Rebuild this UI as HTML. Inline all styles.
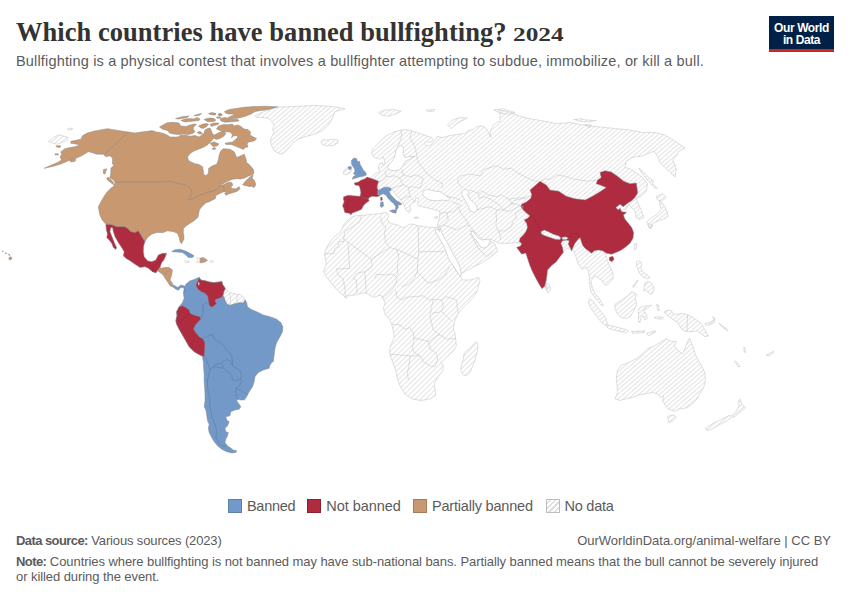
<!DOCTYPE html>
<html><head><meta charset="utf-8">
<style>
html,body{margin:0;padding:0;background:#fff;}
body{width:850px;height:600px;position:relative;overflow:hidden;font-family:"Liberation Sans",sans-serif;}
.title{position:absolute;left:16px;top:16.5px;font-family:"Liberation Serif",serif;font-weight:bold;font-size:26.5px;color:#333;white-space:nowrap;letter-spacing:0.04px;}
.sub{position:absolute;left:16px;top:53px;font-size:14.5px;color:#5b5b5b;white-space:nowrap;letter-spacing:0.17px;}
.logo{position:absolute;left:769px;top:16px;width:65px;height:36px;background:#002147;}
.logo:after{content:"";position:absolute;left:0;right:0;bottom:0;height:3px;background:#ce261e;}
.logo div{position:absolute;left:0;right:0;text-align:center;color:#fff;font-weight:bold;font-size:12px;line-height:12px;letter-spacing:-0.4px;}
.legend{position:absolute;top:497.5px;left:0;width:850px;height:16px;font-size:14.5px;color:#5b5b5b;}
.legend span.sw{position:absolute;top:1px;width:14px;height:14px;box-sizing:border-box;}
.legend span.t{position:absolute;top:0px;white-space:nowrap;line-height:16px;}
.foot{position:absolute;font-size:13px;color:#5b5b5b;white-space:nowrap;}
.foot b{color:#5b5b5b;letter-spacing:-0.58px;}
svg{position:absolute;left:0;top:0;}
</style></head><body>
<div class="title">Which countries have banned bullfighting? <span style="font-size:19.5px;display:inline-block;transform:scaleX(1.3);transform-origin:0 100%;letter-spacing:0">2024</span></div>
<div class="sub">Bullfighting is a physical contest that involves a bullfighter attempting to subdue, immobilize, or kill a bull.</div>
<div class="logo"><div style="top:5.5px">Our World</div><div style="top:18px">in Data</div></div>
<svg id="map" width="850" height="600" viewBox="0 0 850 600">
<defs><clipPath id="hc1"><path d="M196.67,257.5 L200,258.33 L200.33,263 L195.83,262 L198,260.33Z M185,260.83 L189.17,260.83 L189.17,262.5 L185,262.5Z M210,260.83 L213.33,260.83 L213.33,262.17 L210,262.17Z M223.72,291.72 L225.97,288.73 L229.72,292.47 L234.96,293.97 L240.96,294.72 L243.96,297.72 L245.16,299.97 L243.21,302.97 L239.46,302.67 L234.96,303.72 L230.46,305.22 L227.17,304.47 L225.22,300.72 L223.72,296.22 L222.67,296.22Z M374.17,157.5 L371.67,153.33 L372.5,149.17 L375.83,145.83 L380,141.67 L384.17,137.5 L389.17,134.17 L395,131.67 L400.83,130 L406.67,129.67 L411.67,130.83 L416.67,132.5 L421.67,134.17 L426.67,135.83 L431.67,137.5 L433.33,140 L430.83,142.5 L426.67,141.67 L424.17,143.33 L426.67,145.83 L430.83,145 L433.33,142.5 L435.83,139.17 L437.5,135.83 L440,137.5 L443.33,137.5 L448.33,135.83 L453.33,135 L460,134.17 L465,133.33 L468.33,130.83 L473.33,129.17 L476.67,126.67 L480,125.83 L484.17,126.67 L486.67,129.17 L489.17,133.33 L490.83,137.5 L490,132.5 L491.67,128.33 L493.33,125 L496.67,122.5 L500,121.33 L500,110 L510,112.5 L520,116.25 L530,118.75 L537.5,120 L545,121.25 L557.5,123.75 L570,122.5 L582.5,125 L592.5,126.25 L605,127.5 L617.5,128.75 L630,130 L642.5,132.5 L655,132.5 L665,135 L675,141.25 L685,148 L678.75,151.25 L676.25,156.25 L672.5,160 L675,165 L676.25,170 L675,177 L670,172.5 L665,167.5 L660,162.5 L657.5,156.25 L653.75,151.25 L647.5,153.75 L641.25,156.25 L632.5,157.5 L626.25,161.25 L625,167.5 L630,168.75 L636.25,172.5 L642.5,177.5 L647.5,183.75 L646.25,191.25 L642.5,195 L638.75,197.5 L636.25,198.75 L638.75,205 L641.25,210 L643.75,217.5 L640,219.5 L636.25,217.5 L635,211.25 L631.25,207.5 L628.75,203.75 L605,252.5 L606.67,258.33 L609.17,265 L612.5,271.67 L613.33,277.5 L610,282.5 L605.83,285.83 L603.33,283.33 L601.67,280 L598.33,278.33 L595.83,275.83 L593.33,277.5 L591.67,280 L591,281.25 L592.5,288.33 L595,293.33 L598.33,297.5 L601.67,302.5 L603.33,305.83 L600.83,305 L597.5,300.83 L594.17,296.67 L590.83,291.67 L589.25,281.25 L589.5,277.5 L588.25,271.25 L586.25,267 L582,269.5 L578,263.75 L576.25,257.5 L573.75,251.25 L567.5,248.33 L555,256.67 L528.33,254.17 L521.67,247.5 L521.33,243.67 L515,242.5 L508.33,243.33 L500,243.33 L495,241.33 L490.83,239.17 L487.5,240.83 L483.33,240 L479.17,236.67 L475,232.5 L470.83,230.83 L471.67,232.5 L475,238.33 L478.33,243.33 L481.67,245.83 L485,246.67 L488.33,244.17 L490,240.83 L494.17,243.33 L497.5,250 L497.5,251.25 L490,257.5 L480,263.75 L470,268.75 L460,274.25 L456.67,266.67 L452.5,260.83 L448.33,253.33 L445,245 L440.83,236.67 L439.17,232.5 L438,227.5 L437.5,225 L439.17,218.33 L440,211.67 L433.33,209.17 L425,207.5 L418.33,205.83 L417.5,202.5 L418.33,199.17 L415.83,197.5 L415,202 L412,203.33 L409.67,205.83 L410.83,210 L409.17,212.83 L406.67,210.83 L405,207.5 L403.33,203.33 L400.83,200 L397.5,196.67 L394.17,192.5 L391.33,188.33 L380,190 L371.67,180 L370,178.33 L372.5,175.83 L375.83,173.33 L380,171.67 L378.33,168.33 L379.17,164.17 L382.5,162.5 L383.33,165.83 L385,163.33 L383.33,156.67 L379.17,159.17Z M320.83,141.67 L323.33,139.67 L328.33,140 L333.33,139.17 L338.33,140 L337.5,143.33 L333.33,145.33 L326.67,145.83 L322.5,144.67Z M344.17,170 L348,167.33 L349.17,169.67 L351.67,169.17 L350.33,172.5 L346.67,174.67 L343.33,174.17Z M378.75,112.5 L385,110 L393.75,109.5 L401.25,111.25 L395,114.5 L387.5,116.25 L381.25,115Z M447.5,125 L452.5,120 L460,117.5 L467.5,118 L461.25,121.25 L455,125 L451.25,128.75Z M426.25,110 L435,109.5 L433.75,111.25 L427.5,111.5Z M493.75,110 L502.5,108.75 L515,112.5 L510,114.5 L500,113Z M573.75,119.5 L580,118.75 L586.25,120 L596.25,120.5 L587.5,122 L580,121.25Z M585,124.5 L591.25,125 L590,128Z M639.07,168.27 L641.33,170 L646,174.67 L650,178.67 L654,181.33 L652,182 L653.33,184.67 L657.33,188.27 L656.67,189.07 L652.67,186 L649.33,182 L645.33,177.33 L642,173.33 L639.6,169.6Z M656.25,196.25 L662.5,193.75 L666.25,197.5 L661.25,201.25 L657.5,200Z M659.33,200.67 L663.33,204 L665.33,208 L667.33,212 L668,216 L666,218 L662.67,219.33 L659.33,220.67 L655.33,222 L652.67,223.33 L651.33,226.67 L649.33,227.33 L647.33,224 L646.67,222 L650,218.67 L653.33,216.67 L656.67,214.67 L658.67,212 L661.33,209.33 L660,205.33Z M648.75,223.75 L652.5,225 L651.25,228.75 L648.75,227.5Z M434.17,217.5 L437.5,216.33 L437,218.33Z M414.17,217.17 L418.33,217 L418.33,218 L414.17,218.17Z M634.17,244.17 L636.67,243.33 L636.33,248.33 L634.67,249.67Z M545,285.83 L547.5,286.67 L546.67,290 L545.33,288.67Z M48.33,141.67 L53.33,137.5 L59.17,134.67 L62.5,135.83 L68.33,137.5 L66.67,140.83 L61.67,142.5 L57.5,144.17 L53.33,143.33Z M67.5,128.67 L72.5,128 L72,129.67 L68,130Z M255,115.83 L261.67,112.5 L270,109.17 L277.5,107 L290,106.67 L300,106.33 L313.33,105.33 L323.33,105.83 L333.33,106.67 L345,108.67 L340,110.33 L335,111.67 L333.33,115.83 L331.67,120 L328.33,125 L325,128.33 L321.67,130.83 L316.67,133.33 L311.67,135 L305,136.67 L298.33,139.17 L293.33,142.5 L290,146.67 L285.83,150.83 L282.5,154.17 L278.33,153.33 L274.17,150.83 L271.67,145.83 L270.33,140.83 L271.67,136.67 L274.17,132.5 L272.5,129.17 L274.17,125 L271.67,121.67 L268.33,118.33 L261.67,117.5 L256.67,117.5Z M590,298.33 L594.17,302.5 L598.33,308.33 L602.5,313.33 L605.83,318.33 L607.5,324.17 L605.83,325.83 L601.67,322.5 L597.5,317.5 L593.33,311.67 L590,306.67 L588.33,301.67Z M606.67,325 L611.67,325.83 L618.33,327.5 L625,329.17 L628.33,330.83 L626.67,332.5 L620,331.33 L613.33,330 L607.5,328Z M631.67,331.33 L645,330.83 L644.17,332.5 L632.5,333.33Z M646.67,333.33 L655,330.83 L655.83,332 L648.33,335.83Z M615,304.17 L620.83,300.83 L626.67,296.67 L631.67,291.67 L636.67,294.17 L635,298.33 L636.67,304.17 L634.17,310 L630.83,315.83 L626.67,318.33 L621.67,317.5 L617.5,314.17 L615,309.17Z M639.17,308.33 L643.33,306.33 L648.33,305.83 L651.67,305.33 L647.5,308.33 L643.33,310 L645.83,313.33 L647.5,318.33 L645,320 L643,315.83 L640.83,318.33 L640,322.5 L638.33,321.67 L638.67,315.83 L638,311.67Z M636.67,261.67 L640,260.83 L641.67,264.17 L640.83,268.33 L643.33,272.5 L647.5,275 L650,277.5 L647.5,278.67 L644.17,277.5 L641.67,275.83 L639.17,272.5 L637.5,268.33 L636.33,265Z M645,282.5 L649.17,281.67 L652.5,284.17 L654.17,289.17 L652.5,293.33 L650,294.17 L647.5,291.67 L645,290 L643.33,290.83 L644.17,287.5Z M632.5,286.67 L637.5,280 L638,280.83 L633.33,287.5Z M664.17,311.67 L668.33,310 L671.67,310.83 L673.33,314.17 L678.33,314.17 L683.33,313.33 L690,315.83 L696.67,320 L701.67,324.17 L705,330 L708.33,335.83 L705,336.67 L700.83,333.33 L696.67,330.83 L691.67,331.67 L686.67,331.67 L682.5,330 L680,326.67 L677.5,322.5 L673.33,320 L669.17,316.67 L665.83,314.17Z M705,323.33 L710,322.5 L714.17,319.17 L712.5,316.67 L715,318.33 L714.17,322.5 L709.17,325 L705.83,325.33Z M719.17,323.33 L723.33,326.67 L728.33,330 L727.5,330.83 L722.5,327.5Z M656.67,304.17 L658.67,305 L659.17,310.83 L657.5,310Z M654.17,317.5 L658.33,316.67 L663.33,317.5 L662.5,319.17 L656.67,318.67Z M615,398.75 L617.5,392.5 L617,385 L616.25,377.5 L617.5,370 L621.25,365 L628.75,362.5 L636.25,358.75 L642.5,353.75 L647.5,348.75 L653.75,346.25 L660,342.5 L666.25,338.75 L671.25,341.25 L676.25,341.25 L674.5,346.25 L678.75,351.25 L682.5,353.75 L685,348.75 L687,342.5 L689.5,338 L691.25,342.5 L693.75,348.75 L695.5,355 L698.75,361.25 L702.5,367.5 L705,373.75 L705.5,380 L703.75,387.5 L700,393.75 L696.25,400 L691.25,405 L686.25,408 L680,408.75 L675,411.25 L668.75,409.5 L665,405 L662.5,400 L663.75,396.25 L660,397.5 L657.5,393.75 L652.5,392.5 L645,393.75 L638.75,395 L632.5,397.5 L626.25,398.75 L620,400.5Z M667.5,416.25 L673.75,415 L676.25,417 L672.5,421.25 L668.75,422.5Z M738.75,400 L740.5,399.5 L742,405 L745.5,407.5 L742.5,410 L738.75,413 L735.5,416.25 L733,417.5 L732,415 L736.25,411.25 L738.75,406.25Z M705,428.75 L710,425 L717.5,421.25 L725,417.5 L730,415 L731.25,417.5 L726.25,421.25 L718.75,425 L712.5,428.75 L707.5,430.5Z M734.5,361.25 L736.25,361.25 L740,366.25 L738,367Z M743.75,347.5 L745,348 L745.5,352.5 L744.25,352Z M766.25,355 L768.75,353.75 L773.75,351.25 L773,353 L768.75,356.25Z M546.25,283 L549.5,285 L550.5,290 L548,293 L546,288.75Z"/></clipPath><clipPath id="hc2"><path d="M386.33,212.5 L381.33,213.33 L374.67,214.17 L368,214.67 L361.33,215.33 L355.5,215.83 L352.17,216.67 L348,220 L344.67,223.33 L342.17,228.33 L339.67,232.5 L335.5,235.83 L331.33,240 L328,245 L325.5,250 L324.67,255 L325.5,260 L326.33,264.17 L324.67,267.5 L323.83,271.67 L325.5,275.83 L328.83,280 L332.17,284.17 L335.5,288.33 L339.67,292.5 L344.67,296.67 L347.17,298.33 L345,296.25 L355,295 L365,292.5 L373.75,297.5 L380,295 L382.5,296.67 L385,303.33 L383.33,308.33 L385,314.17 L389.17,319.17 L391.67,324.17 L393.33,330.83 L394.17,337.5 L391.67,343.33 L389.67,349.17 L390,355 L392.5,361.67 L395,368.33 L396.67,375 L398.33,381.67 L400.83,387.5 L402.5,390 L405,394 L412,399 L421,400.5 L430,399 L436,395 L434.17,384.17 L436.67,379.17 L439.17,375 L442.5,371.67 L443.33,366.67 L441.67,362.5 L445,358.33 L450,354.17 L454.17,350 L456.33,345.83 L455.83,340 L455,334.17 L453.33,329.17 L454.17,323.33 L455.83,318.33 L458.33,313.33 L461.67,309.17 L465.83,305 L470.83,300 L475,295 L477.5,290 L480,280 L478.75,277.5 L470,280 L462.5,280 L460,276.25 L455,268.75 L451.25,261.25 L447.5,252.5 L443.75,243.75 L440,235 L438.75,227.5 L440.5,225.83 L437.17,227.5 L431.33,227.5 L424.67,226.67 L418,225.83 L413.83,224.17 L408.83,224.17 L406.33,226.67 L402.17,227.5 L398,225 L393.83,224.17 L389.67,222.5 L387.17,219.17 L388.83,215.83Z M475.83,341.33 L477.5,343.33 L478,348.33 L476.67,354.17 L475,360 L472.5,366.67 L470,372.5 L466.67,375.83 L463.33,375 L460.83,370.83 L461.33,365 L463.33,359.17 L464.17,353.33 L467.5,350 L471.67,346.67 L474.17,343.33Z"/></clipPath></defs><g clip-path="url(#hc1)"><path d="M-5,-1172.8 L855,-1916.7 M-5,-1168.3 L855,-1912.2 M-5,-1163.8 L855,-1907.7 M-5,-1159.3 L855,-1903.2 M-5,-1154.8 L855,-1898.7 M-5,-1150.3 L855,-1894.2 M-5,-1145.8 L855,-1889.7 M-5,-1141.3 L855,-1885.2 M-5,-1136.8 L855,-1880.7 M-5,-1132.3 L855,-1876.2 M-5,-1127.8 L855,-1871.7 M-5,-1123.3 L855,-1867.2 M-5,-1118.8 L855,-1862.7 M-5,-1114.3 L855,-1858.2 M-5,-1109.8 L855,-1853.7 M-5,-1105.3 L855,-1849.2 M-5,-1100.8 L855,-1844.7 M-5,-1096.3 L855,-1840.2 M-5,-1091.8 L855,-1835.7 M-5,-1087.3 L855,-1831.2 M-5,-1082.8 L855,-1826.7 M-5,-1078.3 L855,-1822.2 M-5,-1073.8 L855,-1817.7 M-5,-1069.3 L855,-1813.2 M-5,-1064.8 L855,-1808.7 M-5,-1060.3 L855,-1804.2 M-5,-1055.8 L855,-1799.7 M-5,-1051.3 L855,-1795.2 M-5,-1046.8 L855,-1790.7 M-5,-1042.3 L855,-1786.2 M-5,-1037.8 L855,-1781.7 M-5,-1033.3 L855,-1777.2 M-5,-1028.8 L855,-1772.7 M-5,-1024.3 L855,-1768.2 M-5,-1019.8 L855,-1763.7 M-5,-1015.3 L855,-1759.2 M-5,-1010.8 L855,-1754.7 M-5,-1006.3 L855,-1750.2 M-5,-1001.8 L855,-1745.7 M-5,-997.3 L855,-1741.2 M-5,-992.8 L855,-1736.7 M-5,-988.3 L855,-1732.2 M-5,-983.8 L855,-1727.7 M-5,-979.3 L855,-1723.2 M-5,-974.8 L855,-1718.7 M-5,-970.3 L855,-1714.2 M-5,-965.8 L855,-1709.7 M-5,-961.3 L855,-1705.2 M-5,-956.8 L855,-1700.7 M-5,-952.3 L855,-1696.2 M-5,-947.8 L855,-1691.7 M-5,-943.3 L855,-1687.2 M-5,-938.8 L855,-1682.7 M-5,-934.3 L855,-1678.2 M-5,-929.8 L855,-1673.7 M-5,-925.3 L855,-1669.2 M-5,-920.8 L855,-1664.7 M-5,-916.3 L855,-1660.2 M-5,-911.8 L855,-1655.7 M-5,-907.3 L855,-1651.2 M-5,-902.8 L855,-1646.7 M-5,-898.3 L855,-1642.2 M-5,-893.8 L855,-1637.7 M-5,-889.3 L855,-1633.2 M-5,-884.8 L855,-1628.7 M-5,-880.3 L855,-1624.2 M-5,-875.8 L855,-1619.7 M-5,-871.3 L855,-1615.2 M-5,-866.8 L855,-1610.7 M-5,-862.3 L855,-1606.2 M-5,-857.8 L855,-1601.7 M-5,-853.3 L855,-1597.2 M-5,-848.8 L855,-1592.7 M-5,-844.3 L855,-1588.2 M-5,-839.8 L855,-1583.7 M-5,-835.3 L855,-1579.2 M-5,-830.8 L855,-1574.7 M-5,-826.3 L855,-1570.2 M-5,-821.8 L855,-1565.7 M-5,-817.3 L855,-1561.2 M-5,-812.8 L855,-1556.7 M-5,-808.3 L855,-1552.2 M-5,-803.8 L855,-1547.7 M-5,-799.3 L855,-1543.2 M-5,-794.8 L855,-1538.7 M-5,-790.3 L855,-1534.2 M-5,-785.8 L855,-1529.7 M-5,-781.3 L855,-1525.2 M-5,-776.8 L855,-1520.7 M-5,-772.3 L855,-1516.2 M-5,-767.8 L855,-1511.7 M-5,-763.3 L855,-1507.2 M-5,-758.8 L855,-1502.7 M-5,-754.3 L855,-1498.2 M-5,-749.8 L855,-1493.7 M-5,-745.3 L855,-1489.2 M-5,-740.8 L855,-1484.7 M-5,-736.3 L855,-1480.2 M-5,-731.8 L855,-1475.7 M-5,-727.3 L855,-1471.2 M-5,-722.8 L855,-1466.7 M-5,-718.3 L855,-1462.2 M-5,-713.8 L855,-1457.7 M-5,-709.3 L855,-1453.2 M-5,-704.8 L855,-1448.7 M-5,-700.3 L855,-1444.2 M-5,-695.8 L855,-1439.7 M-5,-691.3 L855,-1435.2 M-5,-686.8 L855,-1430.7 M-5,-682.3 L855,-1426.2 M-5,-677.8 L855,-1421.7 M-5,-673.3 L855,-1417.2 M-5,-668.8 L855,-1412.7 M-5,-664.3 L855,-1408.2 M-5,-659.8 L855,-1403.7 M-5,-655.3 L855,-1399.2 M-5,-650.8 L855,-1394.7 M-5,-646.3 L855,-1390.2 M-5,-641.8 L855,-1385.7 M-5,-637.3 L855,-1381.2 M-5,-632.8 L855,-1376.7 M-5,-628.3 L855,-1372.2 M-5,-623.8 L855,-1367.7 M-5,-619.3 L855,-1363.2 M-5,-614.8 L855,-1358.7 M-5,-610.3 L855,-1354.2 M-5,-605.8 L855,-1349.7 M-5,-601.3 L855,-1345.2 M-5,-596.8 L855,-1340.7 M-5,-592.3 L855,-1336.2 M-5,-587.8 L855,-1331.7 M-5,-583.3 L855,-1327.2 M-5,-578.8 L855,-1322.7 M-5,-574.3 L855,-1318.2 M-5,-569.8 L855,-1313.7 M-5,-565.3 L855,-1309.2 M-5,-560.8 L855,-1304.7 M-5,-556.3 L855,-1300.2 M-5,-551.8 L855,-1295.7 M-5,-547.3 L855,-1291.2 M-5,-542.8 L855,-1286.7 M-5,-538.3 L855,-1282.2 M-5,-533.8 L855,-1277.7 M-5,-529.3 L855,-1273.2 M-5,-524.8 L855,-1268.7 M-5,-520.3 L855,-1264.2 M-5,-515.8 L855,-1259.7 M-5,-511.3 L855,-1255.2 M-5,-506.8 L855,-1250.7 M-5,-502.3 L855,-1246.2 M-5,-497.8 L855,-1241.7 M-5,-493.3 L855,-1237.2 M-5,-488.8 L855,-1232.7 M-5,-484.3 L855,-1228.2 M-5,-479.8 L855,-1223.7 M-5,-475.3 L855,-1219.2 M-5,-470.8 L855,-1214.7 M-5,-466.3 L855,-1210.2 M-5,-461.8 L855,-1205.7 M-5,-457.3 L855,-1201.2 M-5,-452.8 L855,-1196.7 M-5,-448.3 L855,-1192.2 M-5,-443.8 L855,-1187.7 M-5,-439.3 L855,-1183.2 M-5,-434.8 L855,-1178.7 M-5,-430.3 L855,-1174.2 M-5,-425.8 L855,-1169.7 M-5,-421.3 L855,-1165.2 M-5,-416.8 L855,-1160.7 M-5,-412.3 L855,-1156.2 M-5,-407.8 L855,-1151.7 M-5,-403.3 L855,-1147.2 M-5,-398.8 L855,-1142.7 M-5,-394.3 L855,-1138.2 M-5,-389.8 L855,-1133.7 M-5,-385.3 L855,-1129.2 M-5,-380.8 L855,-1124.7 M-5,-376.3 L855,-1120.2 M-5,-371.8 L855,-1115.7 M-5,-367.3 L855,-1111.2 M-5,-362.8 L855,-1106.7 M-5,-358.3 L855,-1102.2 M-5,-353.8 L855,-1097.7 M-5,-349.3 L855,-1093.2 M-5,-344.8 L855,-1088.7 M-5,-340.3 L855,-1084.2 M-5,-335.8 L855,-1079.7 M-5,-331.3 L855,-1075.2 M-5,-326.8 L855,-1070.7 M-5,-322.3 L855,-1066.2 M-5,-317.8 L855,-1061.7 M-5,-313.3 L855,-1057.2 M-5,-308.8 L855,-1052.7 M-5,-304.3 L855,-1048.2 M-5,-299.8 L855,-1043.7 M-5,-295.3 L855,-1039.2 M-5,-290.8 L855,-1034.7 M-5,-286.3 L855,-1030.2 M-5,-281.8 L855,-1025.7 M-5,-277.3 L855,-1021.2 M-5,-272.8 L855,-1016.7 M-5,-268.3 L855,-1012.2 M-5,-263.8 L855,-1007.7 M-5,-259.3 L855,-1003.2 M-5,-254.8 L855,-998.7 M-5,-250.3 L855,-994.2 M-5,-245.8 L855,-989.7 M-5,-241.3 L855,-985.2 M-5,-236.8 L855,-980.7 M-5,-232.3 L855,-976.2 M-5,-227.8 L855,-971.7 M-5,-223.3 L855,-967.2 M-5,-218.8 L855,-962.7 M-5,-214.3 L855,-958.2 M-5,-209.8 L855,-953.7 M-5,-205.3 L855,-949.2 M-5,-200.8 L855,-944.7 M-5,-196.3 L855,-940.2 M-5,-191.8 L855,-935.7 M-5,-187.3 L855,-931.2 M-5,-182.8 L855,-926.7 M-5,-178.3 L855,-922.2 M-5,-173.8 L855,-917.7 M-5,-169.3 L855,-913.2 M-5,-164.8 L855,-908.7 M-5,-160.3 L855,-904.2 M-5,-155.8 L855,-899.7 M-5,-151.3 L855,-895.2 M-5,-146.8 L855,-890.7 M-5,-142.3 L855,-886.2 M-5,-137.8 L855,-881.7 M-5,-133.3 L855,-877.2 M-5,-128.8 L855,-872.7 M-5,-124.3 L855,-868.2 M-5,-119.8 L855,-863.7 M-5,-115.3 L855,-859.2 M-5,-110.8 L855,-854.7 M-5,-106.3 L855,-850.2 M-5,-101.8 L855,-845.7 M-5,-97.3 L855,-841.2 M-5,-92.8 L855,-836.7 M-5,-88.3 L855,-832.2 M-5,-83.8 L855,-827.7 M-5,-79.3 L855,-823.2 M-5,-74.8 L855,-818.7 M-5,-70.3 L855,-814.2 M-5,-65.8 L855,-809.7 M-5,-61.3 L855,-805.2 M-5,-56.8 L855,-800.7 M-5,-52.3 L855,-796.2 M-5,-47.8 L855,-791.7 M-5,-43.3 L855,-787.2 M-5,-38.8 L855,-782.7 M-5,-34.3 L855,-778.2 M-5,-29.8 L855,-773.7 M-5,-25.3 L855,-769.2 M-5,-20.8 L855,-764.7 M-5,-16.3 L855,-760.2 M-5,-11.8 L855,-755.7 M-5,-7.3 L855,-751.2 M-5,-2.8 L855,-746.7 M-5,1.7 L855,-742.2 M-5,6.2 L855,-737.7 M-5,10.7 L855,-733.2 M-5,15.2 L855,-728.7 M-5,19.7 L855,-724.2 M-5,24.2 L855,-719.7 M-5,28.7 L855,-715.2 M-5,33.2 L855,-710.7 M-5,37.7 L855,-706.2 M-5,42.2 L855,-701.7 M-5,46.7 L855,-697.2 M-5,51.2 L855,-692.7 M-5,55.7 L855,-688.2 M-5,60.2 L855,-683.7 M-5,64.7 L855,-679.2 M-5,69.2 L855,-674.7 M-5,73.7 L855,-670.2 M-5,78.2 L855,-665.7 M-5,82.7 L855,-661.2 M-5,87.2 L855,-656.7 M-5,91.7 L855,-652.2 M-5,96.2 L855,-647.7 M-5,100.7 L855,-643.2 M-5,105.2 L855,-638.7 M-5,109.7 L855,-634.2 M-5,114.2 L855,-629.7 M-5,118.7 L855,-625.2 M-5,123.2 L855,-620.7 M-5,127.7 L855,-616.2 M-5,132.2 L855,-611.7 M-5,136.7 L855,-607.2 M-5,141.2 L855,-602.7 M-5,145.7 L855,-598.2 M-5,150.2 L855,-593.7 M-5,154.7 L855,-589.2 M-5,159.2 L855,-584.7 M-5,163.7 L855,-580.2 M-5,168.2 L855,-575.7 M-5,172.7 L855,-571.2 M-5,177.2 L855,-566.7 M-5,181.7 L855,-562.2 M-5,186.2 L855,-557.7 M-5,190.7 L855,-553.2 M-5,195.2 L855,-548.7 M-5,199.7 L855,-544.2 M-5,204.2 L855,-539.7 M-5,208.7 L855,-535.2 M-5,213.2 L855,-530.7 M-5,217.7 L855,-526.2 M-5,222.2 L855,-521.7 M-5,226.7 L855,-517.2 M-5,231.2 L855,-512.7 M-5,235.7 L855,-508.2 M-5,240.2 L855,-503.7 M-5,244.7 L855,-499.2 M-5,249.2 L855,-494.7 M-5,253.7 L855,-490.2 M-5,258.2 L855,-485.7 M-5,262.7 L855,-481.2 M-5,267.2 L855,-476.7 M-5,271.7 L855,-472.2 M-5,276.2 L855,-467.7 M-5,280.7 L855,-463.2 M-5,285.2 L855,-458.7 M-5,289.7 L855,-454.2 M-5,294.2 L855,-449.7 M-5,298.7 L855,-445.2 M-5,303.2 L855,-440.7 M-5,307.7 L855,-436.2 M-5,312.2 L855,-431.7 M-5,316.7 L855,-427.2 M-5,321.2 L855,-422.7 M-5,325.7 L855,-418.2 M-5,330.2 L855,-413.7 M-5,334.7 L855,-409.2 M-5,339.2 L855,-404.7 M-5,343.7 L855,-400.2 M-5,348.2 L855,-395.7 M-5,352.7 L855,-391.2 M-5,357.2 L855,-386.7 M-5,361.7 L855,-382.2 M-5,366.2 L855,-377.7 M-5,370.7 L855,-373.2 M-5,375.2 L855,-368.7 M-5,379.7 L855,-364.2 M-5,384.2 L855,-359.7 M-5,388.7 L855,-355.2 M-5,393.2 L855,-350.7 M-5,397.7 L855,-346.2 M-5,402.2 L855,-341.7 M-5,406.7 L855,-337.2 M-5,411.2 L855,-332.7 M-5,415.7 L855,-328.2 M-5,420.2 L855,-323.7 M-5,424.7 L855,-319.2 M-5,429.2 L855,-314.7 M-5,433.7 L855,-310.2 M-5,438.2 L855,-305.7 M-5,442.7 L855,-301.2 M-5,447.2 L855,-296.7 M-5,451.7 L855,-292.2 M-5,456.2 L855,-287.7 M-5,460.7 L855,-283.2 M-5,465.2 L855,-278.7 M-5,469.7 L855,-274.2 M-5,474.2 L855,-269.7 M-5,478.7 L855,-265.2 M-5,483.2 L855,-260.7 M-5,487.7 L855,-256.2 M-5,492.2 L855,-251.7 M-5,496.7 L855,-247.2 M-5,501.2 L855,-242.7 M-5,505.7 L855,-238.2 M-5,510.2 L855,-233.7 M-5,514.7 L855,-229.2 M-5,519.2 L855,-224.7 M-5,523.7 L855,-220.2 M-5,528.2 L855,-215.7 M-5,532.7 L855,-211.2 M-5,537.2 L855,-206.7 M-5,541.7 L855,-202.2 M-5,546.2 L855,-197.7 M-5,550.7 L855,-193.2 M-5,555.2 L855,-188.7 M-5,559.7 L855,-184.2 M-5,564.2 L855,-179.7 M-5,568.7 L855,-175.2 M-5,573.2 L855,-170.7 M-5,577.7 L855,-166.2 M-5,582.2 L855,-161.7 M-5,586.7 L855,-157.2 M-5,591.2 L855,-152.7 M-5,595.7 L855,-148.2 M-5,600.2 L855,-143.7 M-5,604.7 L855,-139.2 M-5,609.2 L855,-134.7 M-5,613.7 L855,-130.2 M-5,618.2 L855,-125.7 M-5,622.7 L855,-121.2 M-5,627.2 L855,-116.7 M-5,631.7 L855,-112.2 M-5,636.2 L855,-107.7 M-5,640.7 L855,-103.2 M-5,645.2 L855,-98.7 M-5,649.7 L855,-94.2 M-5,654.2 L855,-89.7 M-5,658.7 L855,-85.2 M-5,663.2 L855,-80.7 M-5,667.7 L855,-76.2 M-5,672.2 L855,-71.7 M-5,676.7 L855,-67.2 M-5,681.2 L855,-62.7 M-5,685.7 L855,-58.2 M-5,690.2 L855,-53.7 M-5,694.7 L855,-49.2 M-5,699.2 L855,-44.7 M-5,703.7 L855,-40.2 M-5,708.2 L855,-35.7 M-5,712.7 L855,-31.2 M-5,717.2 L855,-26.7 M-5,721.7 L855,-22.2 M-5,726.2 L855,-17.7 M-5,730.7 L855,-13.2 M-5,735.2 L855,-8.7 M-5,739.7 L855,-4.2 M-5,744.2 L855,0.3 M-5,748.7 L855,4.8 M-5,753.2 L855,9.3 M-5,757.7 L855,13.8 M-5,762.2 L855,18.3 M-5,766.7 L855,22.8 M-5,771.2 L855,27.3 M-5,775.7 L855,31.8 M-5,780.2 L855,36.3 M-5,784.7 L855,40.8 M-5,789.2 L855,45.3 M-5,793.7 L855,49.8 M-5,798.2 L855,54.3 M-5,802.7 L855,58.8 M-5,807.2 L855,63.3 M-5,811.7 L855,67.8 M-5,816.2 L855,72.3 M-5,820.7 L855,76.8 M-5,825.2 L855,81.3 M-5,829.7 L855,85.8 M-5,834.2 L855,90.3 M-5,838.7 L855,94.8 M-5,843.2 L855,99.3 M-5,847.7 L855,103.8 M-5,852.2 L855,108.3 M-5,856.7 L855,112.8 M-5,861.2 L855,117.3 M-5,865.7 L855,121.8 M-5,870.2 L855,126.3 M-5,874.7 L855,130.8 M-5,879.2 L855,135.3 M-5,883.7 L855,139.8 M-5,888.2 L855,144.3 M-5,892.7 L855,148.8 M-5,897.2 L855,153.3 M-5,901.7 L855,157.8 M-5,906.2 L855,162.3 M-5,910.7 L855,166.8 M-5,915.2 L855,171.3 M-5,919.7 L855,175.8 M-5,924.2 L855,180.3 M-5,928.7 L855,184.8 M-5,933.2 L855,189.3 M-5,937.7 L855,193.8 M-5,942.2 L855,198.3 M-5,946.7 L855,202.8 M-5,951.2 L855,207.3 M-5,955.7 L855,211.8 M-5,960.2 L855,216.3 M-5,964.7 L855,220.8 M-5,969.2 L855,225.3 M-5,973.7 L855,229.8 M-5,978.2 L855,234.3 M-5,982.7 L855,238.8 M-5,987.2 L855,243.3 M-5,991.7 L855,247.8 M-5,996.2 L855,252.3 M-5,1000.7 L855,256.8 M-5,1005.2 L855,261.3 M-5,1009.7 L855,265.8 M-5,1014.2 L855,270.3 M-5,1018.7 L855,274.8 M-5,1023.2 L855,279.3 M-5,1027.7 L855,283.8 M-5,1032.2 L855,288.3 M-5,1036.7 L855,292.8 M-5,1041.2 L855,297.3 M-5,1045.7 L855,301.8 M-5,1050.2 L855,306.3 M-5,1054.7 L855,310.8 M-5,1059.2 L855,315.3 M-5,1063.7 L855,319.8 M-5,1068.2 L855,324.3 M-5,1072.7 L855,328.8 M-5,1077.2 L855,333.3 M-5,1081.7 L855,337.8 M-5,1086.2 L855,342.3 M-5,1090.7 L855,346.8 M-5,1095.2 L855,351.3 M-5,1099.7 L855,355.8 M-5,1104.2 L855,360.3 M-5,1108.7 L855,364.8 M-5,1113.2 L855,369.3 M-5,1117.7 L855,373.8 M-5,1122.2 L855,378.3 M-5,1126.7 L855,382.8 M-5,1131.2 L855,387.3 M-5,1135.7 L855,391.8 M-5,1140.2 L855,396.3 M-5,1144.7 L855,400.8 M-5,1149.2 L855,405.3 M-5,1153.7 L855,409.8 M-5,1158.2 L855,414.3 M-5,1162.7 L855,418.8 M-5,1167.2 L855,423.3 M-5,1171.7 L855,427.8 M-5,1176.2 L855,432.3 M-5,1180.7 L855,436.8 M-5,1185.2 L855,441.3 M-5,1189.7 L855,445.8 M-5,1194.2 L855,450.3 M-5,1198.7 L855,454.8 M-5,1203.2 L855,459.3 M-5,1207.7 L855,463.8 M-5,1212.2 L855,468.3 M-5,1216.7 L855,472.8 M-5,1221.2 L855,477.3 M-5,1225.7 L855,481.8 M-5,1230.2 L855,486.3 M-5,1234.7 L855,490.8 M-5,1239.2 L855,495.3 M-5,1243.7 L855,499.8 M-5,1248.2 L855,504.3 M-5,1252.7 L855,508.8 M-5,1257.2 L855,513.3 M-5,1261.7 L855,517.8 M-5,1266.2 L855,522.3 M-5,1270.7 L855,526.8 M-5,1275.2 L855,531.3 M-5,1279.7 L855,535.8 M-5,1284.2 L855,540.3 M-5,1288.7 L855,544.8 M-5,1293.2 L855,549.3 M-5,1297.7 L855,553.8 M-5,1302.2 L855,558.3 M-5,1306.7 L855,562.8 M-5,1311.2 L855,567.3 M-5,1315.7 L855,571.8 M-5,1320.2 L855,576.3 M-5,1324.7 L855,580.8 M-5,1329.2 L855,585.3 M-5,1333.7 L855,589.8 M-5,1338.2 L855,594.3 M-5,1342.7 L855,598.8 M-5,1347.2 L855,603.3 M-5,1351.7 L855,607.8 M-5,1356.2 L855,612.3 M-5,1360.7 L855,616.8 M-5,1365.2 L855,621.3 M-5,1369.7 L855,625.8 M-5,1374.2 L855,630.3 M-5,1378.7 L855,634.8 M-5,1383.2 L855,639.3 M-5,1387.7 L855,643.8 M-5,1392.2 L855,648.3 M-5,1396.7 L855,652.8 M-5,1401.2 L855,657.3 M-5,1405.7 L855,661.8 M-5,1410.2 L855,666.3 M-5,1414.7 L855,670.8 M-5,1419.2 L855,675.3 M-5,1423.7 L855,679.8 M-5,1428.2 L855,684.3 M-5,1432.7 L855,688.8 M-5,1437.2 L855,693.3 M-5,1441.7 L855,697.8 M-5,1446.2 L855,702.3 M-5,1450.7 L855,706.8 M-5,1455.2 L855,711.3 M-5,1459.7 L855,715.8 M-5,1464.2 L855,720.3 M-5,1468.7 L855,724.8 M-5,1473.2 L855,729.3 M-5,1477.7 L855,733.8 M-5,1482.2 L855,738.3 M-5,1486.7 L855,742.8 M-5,1491.2 L855,747.3 M-5,1495.7 L855,751.8 M-5,1500.2 L855,756.3" stroke="#e8e8e8" stroke-width="1.25" fill="none"/></g><g clip-path="url(#hc2)"><path d="M-5,-1375.0 L855,-2235.0 M-5,-1369.8 L855,-2229.8 M-5,-1364.6 L855,-2224.6 M-5,-1359.4 L855,-2219.4 M-5,-1354.2 L855,-2214.2 M-5,-1349.0 L855,-2209.0 M-5,-1343.8 L855,-2203.8 M-5,-1338.6 L855,-2198.6 M-5,-1333.4 L855,-2193.4 M-5,-1328.2 L855,-2188.2 M-5,-1323.0 L855,-2183.0 M-5,-1317.8 L855,-2177.8 M-5,-1312.6 L855,-2172.6 M-5,-1307.4 L855,-2167.4 M-5,-1302.2 L855,-2162.2 M-5,-1297.0 L855,-2157.0 M-5,-1291.8 L855,-2151.8 M-5,-1286.6 L855,-2146.6 M-5,-1281.4 L855,-2141.4 M-5,-1276.2 L855,-2136.2 M-5,-1271.0 L855,-2131.0 M-5,-1265.8 L855,-2125.8 M-5,-1260.6 L855,-2120.6 M-5,-1255.4 L855,-2115.4 M-5,-1250.2 L855,-2110.2 M-5,-1245.0 L855,-2105.0 M-5,-1239.8 L855,-2099.8 M-5,-1234.6 L855,-2094.6 M-5,-1229.4 L855,-2089.4 M-5,-1224.2 L855,-2084.2 M-5,-1219.0 L855,-2079.0 M-5,-1213.8 L855,-2073.8 M-5,-1208.6 L855,-2068.6 M-5,-1203.4 L855,-2063.4 M-5,-1198.2 L855,-2058.2 M-5,-1193.0 L855,-2053.0 M-5,-1187.8 L855,-2047.8 M-5,-1182.6 L855,-2042.6 M-5,-1177.4 L855,-2037.4 M-5,-1172.2 L855,-2032.2 M-5,-1167.0 L855,-2027.0 M-5,-1161.8 L855,-2021.8 M-5,-1156.6 L855,-2016.6 M-5,-1151.4 L855,-2011.4 M-5,-1146.2 L855,-2006.2 M-5,-1141.0 L855,-2001.0 M-5,-1135.8 L855,-1995.8 M-5,-1130.6 L855,-1990.6 M-5,-1125.4 L855,-1985.4 M-5,-1120.2 L855,-1980.2 M-5,-1115.0 L855,-1975.0 M-5,-1109.8 L855,-1969.8 M-5,-1104.6 L855,-1964.6 M-5,-1099.4 L855,-1959.4 M-5,-1094.2 L855,-1954.2 M-5,-1089.0 L855,-1949.0 M-5,-1083.8 L855,-1943.8 M-5,-1078.6 L855,-1938.6 M-5,-1073.4 L855,-1933.4 M-5,-1068.2 L855,-1928.2 M-5,-1063.0 L855,-1923.0 M-5,-1057.8 L855,-1917.8 M-5,-1052.6 L855,-1912.6 M-5,-1047.4 L855,-1907.4 M-5,-1042.2 L855,-1902.2 M-5,-1037.0 L855,-1897.0 M-5,-1031.8 L855,-1891.8 M-5,-1026.6 L855,-1886.6 M-5,-1021.4 L855,-1881.4 M-5,-1016.2 L855,-1876.2 M-5,-1011.0 L855,-1871.0 M-5,-1005.8 L855,-1865.8 M-5,-1000.6 L855,-1860.6 M-5,-995.4 L855,-1855.4 M-5,-990.2 L855,-1850.2 M-5,-985.0 L855,-1845.0 M-5,-979.8 L855,-1839.8 M-5,-974.6 L855,-1834.6 M-5,-969.4 L855,-1829.4 M-5,-964.2 L855,-1824.2 M-5,-959.0 L855,-1819.0 M-5,-953.8 L855,-1813.8 M-5,-948.6 L855,-1808.6 M-5,-943.4 L855,-1803.4 M-5,-938.2 L855,-1798.2 M-5,-933.0 L855,-1793.0 M-5,-927.8 L855,-1787.8 M-5,-922.6 L855,-1782.6 M-5,-917.4 L855,-1777.4 M-5,-912.2 L855,-1772.2 M-5,-907.0 L855,-1767.0 M-5,-901.8 L855,-1761.8 M-5,-896.6 L855,-1756.6 M-5,-891.4 L855,-1751.4 M-5,-886.2 L855,-1746.2 M-5,-881.0 L855,-1741.0 M-5,-875.8 L855,-1735.8 M-5,-870.6 L855,-1730.6 M-5,-865.4 L855,-1725.4 M-5,-860.2 L855,-1720.2 M-5,-855.0 L855,-1715.0 M-5,-849.8 L855,-1709.8 M-5,-844.6 L855,-1704.6 M-5,-839.4 L855,-1699.4 M-5,-834.2 L855,-1694.2 M-5,-829.0 L855,-1689.0 M-5,-823.8 L855,-1683.8 M-5,-818.6 L855,-1678.6 M-5,-813.4 L855,-1673.4 M-5,-808.2 L855,-1668.2 M-5,-803.0 L855,-1663.0 M-5,-797.8 L855,-1657.8 M-5,-792.6 L855,-1652.6 M-5,-787.4 L855,-1647.4 M-5,-782.2 L855,-1642.2 M-5,-777.0 L855,-1637.0 M-5,-771.8 L855,-1631.8 M-5,-766.6 L855,-1626.6 M-5,-761.4 L855,-1621.4 M-5,-756.2 L855,-1616.2 M-5,-751.0 L855,-1611.0 M-5,-745.8 L855,-1605.8 M-5,-740.6 L855,-1600.6 M-5,-735.4 L855,-1595.4 M-5,-730.2 L855,-1590.2 M-5,-725.0 L855,-1585.0 M-5,-719.8 L855,-1579.8 M-5,-714.6 L855,-1574.6 M-5,-709.4 L855,-1569.4 M-5,-704.2 L855,-1564.2 M-5,-699.0 L855,-1559.0 M-5,-693.8 L855,-1553.8 M-5,-688.6 L855,-1548.6 M-5,-683.4 L855,-1543.4 M-5,-678.2 L855,-1538.2 M-5,-673.0 L855,-1533.0 M-5,-667.8 L855,-1527.8 M-5,-662.6 L855,-1522.6 M-5,-657.4 L855,-1517.4 M-5,-652.2 L855,-1512.2 M-5,-647.0 L855,-1507.0 M-5,-641.8 L855,-1501.8 M-5,-636.6 L855,-1496.6 M-5,-631.4 L855,-1491.4 M-5,-626.2 L855,-1486.2 M-5,-621.0 L855,-1481.0 M-5,-615.8 L855,-1475.8 M-5,-610.6 L855,-1470.6 M-5,-605.4 L855,-1465.4 M-5,-600.2 L855,-1460.2 M-5,-595.0 L855,-1455.0 M-5,-589.8 L855,-1449.8 M-5,-584.6 L855,-1444.6 M-5,-579.4 L855,-1439.4 M-5,-574.2 L855,-1434.2 M-5,-569.0 L855,-1429.0 M-5,-563.8 L855,-1423.8 M-5,-558.6 L855,-1418.6 M-5,-553.4 L855,-1413.4 M-5,-548.2 L855,-1408.2 M-5,-543.0 L855,-1403.0 M-5,-537.8 L855,-1397.8 M-5,-532.6 L855,-1392.6 M-5,-527.4 L855,-1387.4 M-5,-522.2 L855,-1382.2 M-5,-517.0 L855,-1377.0 M-5,-511.8 L855,-1371.8 M-5,-506.6 L855,-1366.6 M-5,-501.4 L855,-1361.4 M-5,-496.2 L855,-1356.2 M-5,-491.0 L855,-1351.0 M-5,-485.8 L855,-1345.8 M-5,-480.6 L855,-1340.6 M-5,-475.4 L855,-1335.4 M-5,-470.2 L855,-1330.2 M-5,-465.0 L855,-1325.0 M-5,-459.8 L855,-1319.8 M-5,-454.6 L855,-1314.6 M-5,-449.4 L855,-1309.4 M-5,-444.2 L855,-1304.2 M-5,-439.0 L855,-1299.0 M-5,-433.8 L855,-1293.8 M-5,-428.6 L855,-1288.6 M-5,-423.4 L855,-1283.4 M-5,-418.2 L855,-1278.2 M-5,-413.0 L855,-1273.0 M-5,-407.8 L855,-1267.8 M-5,-402.6 L855,-1262.6 M-5,-397.4 L855,-1257.4 M-5,-392.2 L855,-1252.2 M-5,-387.0 L855,-1247.0 M-5,-381.8 L855,-1241.8 M-5,-376.6 L855,-1236.6 M-5,-371.4 L855,-1231.4 M-5,-366.2 L855,-1226.2 M-5,-361.0 L855,-1221.0 M-5,-355.8 L855,-1215.8 M-5,-350.6 L855,-1210.6 M-5,-345.4 L855,-1205.4 M-5,-340.2 L855,-1200.2 M-5,-335.0 L855,-1195.0 M-5,-329.8 L855,-1189.8 M-5,-324.6 L855,-1184.6 M-5,-319.4 L855,-1179.4 M-5,-314.2 L855,-1174.2 M-5,-309.0 L855,-1169.0 M-5,-303.8 L855,-1163.8 M-5,-298.6 L855,-1158.6 M-5,-293.4 L855,-1153.4 M-5,-288.2 L855,-1148.2 M-5,-283.0 L855,-1143.0 M-5,-277.8 L855,-1137.8 M-5,-272.6 L855,-1132.6 M-5,-267.4 L855,-1127.4 M-5,-262.2 L855,-1122.2 M-5,-257.0 L855,-1117.0 M-5,-251.8 L855,-1111.8 M-5,-246.6 L855,-1106.6 M-5,-241.4 L855,-1101.4 M-5,-236.2 L855,-1096.2 M-5,-231.0 L855,-1091.0 M-5,-225.8 L855,-1085.8 M-5,-220.6 L855,-1080.6 M-5,-215.4 L855,-1075.4 M-5,-210.2 L855,-1070.2 M-5,-205.0 L855,-1065.0 M-5,-199.8 L855,-1059.8 M-5,-194.6 L855,-1054.6 M-5,-189.4 L855,-1049.4 M-5,-184.2 L855,-1044.2 M-5,-179.0 L855,-1039.0 M-5,-173.8 L855,-1033.8 M-5,-168.6 L855,-1028.6 M-5,-163.4 L855,-1023.4 M-5,-158.2 L855,-1018.2 M-5,-153.0 L855,-1013.0 M-5,-147.8 L855,-1007.8 M-5,-142.6 L855,-1002.6 M-5,-137.4 L855,-997.4 M-5,-132.2 L855,-992.2 M-5,-127.0 L855,-987.0 M-5,-121.8 L855,-981.8 M-5,-116.6 L855,-976.6 M-5,-111.4 L855,-971.4 M-5,-106.2 L855,-966.2 M-5,-101.0 L855,-961.0 M-5,-95.8 L855,-955.8 M-5,-90.6 L855,-950.6 M-5,-85.4 L855,-945.4 M-5,-80.2 L855,-940.2 M-5,-75.0 L855,-935.0 M-5,-69.8 L855,-929.8 M-5,-64.6 L855,-924.6 M-5,-59.4 L855,-919.4 M-5,-54.2 L855,-914.2 M-5,-49.0 L855,-909.0 M-5,-43.8 L855,-903.8 M-5,-38.6 L855,-898.6 M-5,-33.4 L855,-893.4 M-5,-28.2 L855,-888.2 M-5,-23.0 L855,-883.0 M-5,-17.8 L855,-877.8 M-5,-12.6 L855,-872.6 M-5,-7.4 L855,-867.4 M-5,-2.2 L855,-862.2 M-5,3.0 L855,-857.0 M-5,8.2 L855,-851.8 M-5,13.4 L855,-846.6 M-5,18.6 L855,-841.4 M-5,23.8 L855,-836.2 M-5,29.0 L855,-831.0 M-5,34.2 L855,-825.8 M-5,39.4 L855,-820.6 M-5,44.6 L855,-815.4 M-5,49.8 L855,-810.2 M-5,55.0 L855,-805.0 M-5,60.2 L855,-799.8 M-5,65.4 L855,-794.6 M-5,70.6 L855,-789.4 M-5,75.8 L855,-784.2 M-5,81.0 L855,-779.0 M-5,86.2 L855,-773.8 M-5,91.4 L855,-768.6 M-5,96.6 L855,-763.4 M-5,101.8 L855,-758.2 M-5,107.0 L855,-753.0 M-5,112.2 L855,-747.8 M-5,117.4 L855,-742.6 M-5,122.6 L855,-737.4 M-5,127.8 L855,-732.2 M-5,133.0 L855,-727.0 M-5,138.2 L855,-721.8 M-5,143.4 L855,-716.6 M-5,148.6 L855,-711.4 M-5,153.8 L855,-706.2 M-5,159.0 L855,-701.0 M-5,164.2 L855,-695.8 M-5,169.4 L855,-690.6 M-5,174.6 L855,-685.4 M-5,179.8 L855,-680.2 M-5,185.0 L855,-675.0 M-5,190.2 L855,-669.8 M-5,195.4 L855,-664.6 M-5,200.6 L855,-659.4 M-5,205.8 L855,-654.2 M-5,211.0 L855,-649.0 M-5,216.2 L855,-643.8 M-5,221.4 L855,-638.6 M-5,226.6 L855,-633.4 M-5,231.8 L855,-628.2 M-5,237.0 L855,-623.0 M-5,242.2 L855,-617.8 M-5,247.4 L855,-612.6 M-5,252.6 L855,-607.4 M-5,257.8 L855,-602.2 M-5,263.0 L855,-597.0 M-5,268.2 L855,-591.8 M-5,273.4 L855,-586.6 M-5,278.6 L855,-581.4 M-5,283.8 L855,-576.2 M-5,289.0 L855,-571.0 M-5,294.2 L855,-565.8 M-5,299.4 L855,-560.6 M-5,304.6 L855,-555.4 M-5,309.8 L855,-550.2 M-5,315.0 L855,-545.0 M-5,320.2 L855,-539.8 M-5,325.4 L855,-534.6 M-5,330.6 L855,-529.4 M-5,335.8 L855,-524.2 M-5,341.0 L855,-519.0 M-5,346.2 L855,-513.8 M-5,351.4 L855,-508.6 M-5,356.6 L855,-503.4 M-5,361.8 L855,-498.2 M-5,367.0 L855,-493.0 M-5,372.2 L855,-487.8 M-5,377.4 L855,-482.6 M-5,382.6 L855,-477.4 M-5,387.8 L855,-472.2 M-5,393.0 L855,-467.0 M-5,398.2 L855,-461.8 M-5,403.4 L855,-456.6 M-5,408.6 L855,-451.4 M-5,413.8 L855,-446.2 M-5,419.0 L855,-441.0 M-5,424.2 L855,-435.8 M-5,429.4 L855,-430.6 M-5,434.6 L855,-425.4 M-5,439.8 L855,-420.2 M-5,445.0 L855,-415.0 M-5,450.2 L855,-409.8 M-5,455.4 L855,-404.6 M-5,460.6 L855,-399.4 M-5,465.8 L855,-394.2 M-5,471.0 L855,-389.0 M-5,476.2 L855,-383.8 M-5,481.4 L855,-378.6 M-5,486.6 L855,-373.4 M-5,491.8 L855,-368.2 M-5,497.0 L855,-363.0 M-5,502.2 L855,-357.8 M-5,507.4 L855,-352.6 M-5,512.6 L855,-347.4 M-5,517.8 L855,-342.2 M-5,523.0 L855,-337.0 M-5,528.2 L855,-331.8 M-5,533.4 L855,-326.6 M-5,538.6 L855,-321.4 M-5,543.8 L855,-316.2 M-5,549.0 L855,-311.0 M-5,554.2 L855,-305.8 M-5,559.4 L855,-300.6 M-5,564.6 L855,-295.4 M-5,569.8 L855,-290.2 M-5,575.0 L855,-285.0 M-5,580.2 L855,-279.8 M-5,585.4 L855,-274.6 M-5,590.6 L855,-269.4 M-5,595.8 L855,-264.2 M-5,601.0 L855,-259.0 M-5,606.2 L855,-253.8 M-5,611.4 L855,-248.6 M-5,616.6 L855,-243.4 M-5,621.8 L855,-238.2 M-5,627.0 L855,-233.0 M-5,632.2 L855,-227.8 M-5,637.4 L855,-222.6 M-5,642.6 L855,-217.4 M-5,647.8 L855,-212.2 M-5,653.0 L855,-207.0 M-5,658.2 L855,-201.8 M-5,663.4 L855,-196.6 M-5,668.6 L855,-191.4 M-5,673.8 L855,-186.2 M-5,679.0 L855,-181.0 M-5,684.2 L855,-175.8 M-5,689.4 L855,-170.6 M-5,694.6 L855,-165.4 M-5,699.8 L855,-160.2 M-5,705.0 L855,-155.0 M-5,710.2 L855,-149.8 M-5,715.4 L855,-144.6 M-5,720.6 L855,-139.4 M-5,725.8 L855,-134.2 M-5,731.0 L855,-129.0 M-5,736.2 L855,-123.8 M-5,741.4 L855,-118.6 M-5,746.6 L855,-113.4 M-5,751.8 L855,-108.2 M-5,757.0 L855,-103.0 M-5,762.2 L855,-97.8 M-5,767.4 L855,-92.6 M-5,772.6 L855,-87.4 M-5,777.8 L855,-82.2 M-5,783.0 L855,-77.0 M-5,788.2 L855,-71.8 M-5,793.4 L855,-66.6 M-5,798.6 L855,-61.4 M-5,803.8 L855,-56.2 M-5,809.0 L855,-51.0 M-5,814.2 L855,-45.8 M-5,819.4 L855,-40.6 M-5,824.6 L855,-35.4 M-5,829.8 L855,-30.2 M-5,835.0 L855,-25.0 M-5,840.2 L855,-19.8 M-5,845.4 L855,-14.6 M-5,850.6 L855,-9.4 M-5,855.8 L855,-4.2 M-5,861.0 L855,1.0 M-5,866.2 L855,6.2 M-5,871.4 L855,11.4 M-5,876.6 L855,16.6 M-5,881.8 L855,21.8 M-5,887.0 L855,27.0 M-5,892.2 L855,32.2 M-5,897.4 L855,37.4 M-5,902.6 L855,42.6 M-5,907.8 L855,47.8 M-5,913.0 L855,53.0 M-5,918.2 L855,58.2 M-5,923.4 L855,63.4 M-5,928.6 L855,68.6 M-5,933.8 L855,73.8 M-5,939.0 L855,79.0 M-5,944.2 L855,84.2 M-5,949.4 L855,89.4 M-5,954.6 L855,94.6 M-5,959.8 L855,99.8 M-5,965.0 L855,105.0 M-5,970.2 L855,110.2 M-5,975.4 L855,115.4 M-5,980.6 L855,120.6 M-5,985.8 L855,125.8 M-5,991.0 L855,131.0 M-5,996.2 L855,136.2 M-5,1001.4 L855,141.4 M-5,1006.6 L855,146.6 M-5,1011.8 L855,151.8 M-5,1017.0 L855,157.0 M-5,1022.2 L855,162.2 M-5,1027.4 L855,167.4 M-5,1032.6 L855,172.6 M-5,1037.8 L855,177.8 M-5,1043.0 L855,183.0 M-5,1048.2 L855,188.2 M-5,1053.4 L855,193.4 M-5,1058.6 L855,198.6 M-5,1063.8 L855,203.8 M-5,1069.0 L855,209.0 M-5,1074.2 L855,214.2 M-5,1079.4 L855,219.4 M-5,1084.6 L855,224.6 M-5,1089.8 L855,229.8 M-5,1095.0 L855,235.0 M-5,1100.2 L855,240.2 M-5,1105.4 L855,245.4 M-5,1110.6 L855,250.6 M-5,1115.8 L855,255.8 M-5,1121.0 L855,261.0 M-5,1126.2 L855,266.2 M-5,1131.4 L855,271.4 M-5,1136.6 L855,276.6 M-5,1141.8 L855,281.8 M-5,1147.0 L855,287.0 M-5,1152.2 L855,292.2 M-5,1157.4 L855,297.4 M-5,1162.6 L855,302.6 M-5,1167.8 L855,307.8 M-5,1173.0 L855,313.0 M-5,1178.2 L855,318.2 M-5,1183.4 L855,323.4 M-5,1188.6 L855,328.6 M-5,1193.8 L855,333.8 M-5,1199.0 L855,339.0 M-5,1204.2 L855,344.2 M-5,1209.4 L855,349.4 M-5,1214.6 L855,354.6 M-5,1219.8 L855,359.8 M-5,1225.0 L855,365.0 M-5,1230.2 L855,370.2 M-5,1235.4 L855,375.4 M-5,1240.6 L855,380.6 M-5,1245.8 L855,385.8 M-5,1251.0 L855,391.0 M-5,1256.2 L855,396.2 M-5,1261.4 L855,401.4 M-5,1266.6 L855,406.6 M-5,1271.8 L855,411.8 M-5,1277.0 L855,417.0 M-5,1282.2 L855,422.2 M-5,1287.4 L855,427.4 M-5,1292.6 L855,432.6 M-5,1297.8 L855,437.8 M-5,1303.0 L855,443.0 M-5,1308.2 L855,448.2 M-5,1313.4 L855,453.4 M-5,1318.6 L855,458.6 M-5,1323.8 L855,463.8 M-5,1329.0 L855,469.0 M-5,1334.2 L855,474.2 M-5,1339.4 L855,479.4 M-5,1344.6 L855,484.6 M-5,1349.8 L855,489.8 M-5,1355.0 L855,495.0 M-5,1360.2 L855,500.2 M-5,1365.4 L855,505.4 M-5,1370.6 L855,510.6 M-5,1375.8 L855,515.8 M-5,1381.0 L855,521.0 M-5,1386.2 L855,526.2 M-5,1391.4 L855,531.4 M-5,1396.6 L855,536.6 M-5,1401.8 L855,541.8 M-5,1407.0 L855,547.0 M-5,1412.2 L855,552.2 M-5,1417.4 L855,557.4 M-5,1422.6 L855,562.6 M-5,1427.8 L855,567.8 M-5,1433.0 L855,573.0 M-5,1438.2 L855,578.2 M-5,1443.4 L855,583.4 M-5,1448.6 L855,588.6 M-5,1453.8 L855,593.8 M-5,1459.0 L855,599.0 M-5,1464.2 L855,604.2 M-5,1469.4 L855,609.4 M-5,1474.6 L855,614.6 M-5,1479.8 L855,619.8 M-5,1485.0 L855,625.0 M-5,1490.2 L855,630.2 M-5,1495.4 L855,635.4 M-5,1500.6 L855,640.6" stroke="#e8e8e8" stroke-width="1.25" fill="none"/></g><path d="M196.67,257.5 L200,258.33 L200.33,263 L195.83,262 L198,260.33Z" fill="none" stroke="#ccc" stroke-width="0.5" stroke-linejoin="round"/>
<path d="M185,260.83 L189.17,260.83 L189.17,262.5 L185,262.5Z" fill="none" stroke="#ccc" stroke-width="0.5" stroke-linejoin="round"/>
<path d="M210,260.83 L213.33,260.83 L213.33,262.17 L210,262.17Z" fill="none" stroke="#ccc" stroke-width="0.5" stroke-linejoin="round"/>
<path d="M223.72,291.72 L225.97,288.73 L229.72,292.47 L234.96,293.97 L240.96,294.72 L243.96,297.72 L245.16,299.97 L243.21,302.97 L239.46,302.67 L234.96,303.72 L230.46,305.22 L227.17,304.47 L225.22,300.72 L223.72,296.22 L222.67,296.22Z" fill="none" stroke="#bbb" stroke-width="0.5" stroke-linejoin="round"/>
<path d="M374.17,157.5 L371.67,153.33 L372.5,149.17 L375.83,145.83 L380,141.67 L384.17,137.5 L389.17,134.17 L395,131.67 L400.83,130 L406.67,129.67 L411.67,130.83 L416.67,132.5 L421.67,134.17 L426.67,135.83 L431.67,137.5 L433.33,140 L430.83,142.5 L426.67,141.67 L424.17,143.33 L426.67,145.83 L430.83,145 L433.33,142.5 L435.83,139.17 L437.5,135.83 L440,137.5 L443.33,137.5 L448.33,135.83 L453.33,135 L460,134.17 L465,133.33 L468.33,130.83 L473.33,129.17 L476.67,126.67 L480,125.83 L484.17,126.67 L486.67,129.17 L489.17,133.33 L490.83,137.5 L490,132.5 L491.67,128.33 L493.33,125 L496.67,122.5 L500,121.33 L500,110 L510,112.5 L520,116.25 L530,118.75 L537.5,120 L545,121.25 L557.5,123.75 L570,122.5 L582.5,125 L592.5,126.25 L605,127.5 L617.5,128.75 L630,130 L642.5,132.5 L655,132.5 L665,135 L675,141.25 L685,148 L678.75,151.25 L676.25,156.25 L672.5,160 L675,165 L676.25,170 L675,177 L670,172.5 L665,167.5 L660,162.5 L657.5,156.25 L653.75,151.25 L647.5,153.75 L641.25,156.25 L632.5,157.5 L626.25,161.25 L625,167.5 L630,168.75 L636.25,172.5 L642.5,177.5 L647.5,183.75 L646.25,191.25 L642.5,195 L638.75,197.5 L636.25,198.75 L638.75,205 L641.25,210 L643.75,217.5 L640,219.5 L636.25,217.5 L635,211.25 L631.25,207.5 L628.75,203.75 L605,252.5 L606.67,258.33 L609.17,265 L612.5,271.67 L613.33,277.5 L610,282.5 L605.83,285.83 L603.33,283.33 L601.67,280 L598.33,278.33 L595.83,275.83 L593.33,277.5 L591.67,280 L591,281.25 L592.5,288.33 L595,293.33 L598.33,297.5 L601.67,302.5 L603.33,305.83 L600.83,305 L597.5,300.83 L594.17,296.67 L590.83,291.67 L589.25,281.25 L589.5,277.5 L588.25,271.25 L586.25,267 L582,269.5 L578,263.75 L576.25,257.5 L573.75,251.25 L567.5,248.33 L555,256.67 L528.33,254.17 L521.67,247.5 L521.33,243.67 L515,242.5 L508.33,243.33 L500,243.33 L495,241.33 L490.83,239.17 L487.5,240.83 L483.33,240 L479.17,236.67 L475,232.5 L470.83,230.83 L471.67,232.5 L475,238.33 L478.33,243.33 L481.67,245.83 L485,246.67 L488.33,244.17 L490,240.83 L494.17,243.33 L497.5,250 L497.5,251.25 L490,257.5 L480,263.75 L470,268.75 L460,274.25 L456.67,266.67 L452.5,260.83 L448.33,253.33 L445,245 L440.83,236.67 L439.17,232.5 L438,227.5 L437.5,225 L439.17,218.33 L440,211.67 L433.33,209.17 L425,207.5 L418.33,205.83 L417.5,202.5 L418.33,199.17 L415.83,197.5 L415,202 L412,203.33 L409.67,205.83 L410.83,210 L409.17,212.83 L406.67,210.83 L405,207.5 L403.33,203.33 L400.83,200 L397.5,196.67 L394.17,192.5 L391.33,188.33 L380,190 L371.67,180 L370,178.33 L372.5,175.83 L375.83,173.33 L380,171.67 L378.33,168.33 L379.17,164.17 L382.5,162.5 L383.33,165.83 L385,163.33 L383.33,156.67 L379.17,159.17Z" fill="none" stroke="#bfbfbf" stroke-width="0.5" stroke-linejoin="round"/>
<path d="M320.83,141.67 L323.33,139.67 L328.33,140 L333.33,139.17 L338.33,140 L337.5,143.33 L333.33,145.33 L326.67,145.83 L322.5,144.67Z" fill="none" stroke="#bfbfbf" stroke-width="0.5" stroke-linejoin="round"/>
<path d="M344.17,170 L348,167.33 L349.17,169.67 L351.67,169.17 L350.33,172.5 L346.67,174.67 L343.33,174.17Z" fill="none" stroke="#bfbfbf" stroke-width="0.5" stroke-linejoin="round"/>
<path d="M378.75,112.5 L385,110 L393.75,109.5 L401.25,111.25 L395,114.5 L387.5,116.25 L381.25,115Z" fill="none" stroke="#bfbfbf" stroke-width="0.5" stroke-linejoin="round"/>
<path d="M447.5,125 L452.5,120 L460,117.5 L467.5,118 L461.25,121.25 L455,125 L451.25,128.75Z" fill="none" stroke="#bfbfbf" stroke-width="0.5" stroke-linejoin="round"/>
<path d="M426.25,110 L435,109.5 L433.75,111.25 L427.5,111.5Z" fill="none" stroke="#bfbfbf" stroke-width="0.5" stroke-linejoin="round"/>
<path d="M493.75,110 L502.5,108.75 L515,112.5 L510,114.5 L500,113Z" fill="none" stroke="#bfbfbf" stroke-width="0.5" stroke-linejoin="round"/>
<path d="M573.75,119.5 L580,118.75 L586.25,120 L596.25,120.5 L587.5,122 L580,121.25Z" fill="none" stroke="#bfbfbf" stroke-width="0.5" stroke-linejoin="round"/>
<path d="M585,124.5 L591.25,125 L590,128Z" fill="none" stroke="#bfbfbf" stroke-width="0.5" stroke-linejoin="round"/>
<path d="M639.07,168.27 L641.33,170 L646,174.67 L650,178.67 L654,181.33 L652,182 L653.33,184.67 L657.33,188.27 L656.67,189.07 L652.67,186 L649.33,182 L645.33,177.33 L642,173.33 L639.6,169.6Z" fill="none" stroke="#bfbfbf" stroke-width="0.5" stroke-linejoin="round"/>
<path d="M656.25,196.25 L662.5,193.75 L666.25,197.5 L661.25,201.25 L657.5,200Z" fill="none" stroke="#bfbfbf" stroke-width="0.5" stroke-linejoin="round"/>
<path d="M659.33,200.67 L663.33,204 L665.33,208 L667.33,212 L668,216 L666,218 L662.67,219.33 L659.33,220.67 L655.33,222 L652.67,223.33 L651.33,226.67 L649.33,227.33 L647.33,224 L646.67,222 L650,218.67 L653.33,216.67 L656.67,214.67 L658.67,212 L661.33,209.33 L660,205.33Z" fill="none" stroke="#bfbfbf" stroke-width="0.5" stroke-linejoin="round"/>
<path d="M648.75,223.75 L652.5,225 L651.25,228.75 L648.75,227.5Z" fill="none" stroke="#bfbfbf" stroke-width="0.5" stroke-linejoin="round"/>
<path d="M434.17,217.5 L437.5,216.33 L437,218.33Z" fill="none" stroke="#bfbfbf" stroke-width="0.5" stroke-linejoin="round"/>
<path d="M414.17,217.17 L418.33,217 L418.33,218 L414.17,218.17Z" fill="none" stroke="#bfbfbf" stroke-width="0.5" stroke-linejoin="round"/>
<path d="M634.17,244.17 L636.67,243.33 L636.33,248.33 L634.67,249.67Z" fill="none" stroke="#bfbfbf" stroke-width="0.5" stroke-linejoin="round"/>
<path d="M545,285.83 L547.5,286.67 L546.67,290 L545.33,288.67Z" fill="none" stroke="#bfbfbf" stroke-width="0.5" stroke-linejoin="round"/>
<path d="M48.33,141.67 L53.33,137.5 L59.17,134.67 L62.5,135.83 L68.33,137.5 L66.67,140.83 L61.67,142.5 L57.5,144.17 L53.33,143.33Z" fill="none" stroke="#bfbfbf" stroke-width="0.5" stroke-linejoin="round"/>
<path d="M67.5,128.67 L72.5,128 L72,129.67 L68,130Z" fill="none" stroke="#bfbfbf" stroke-width="0.5" stroke-linejoin="round"/>
<path d="M255,115.83 L261.67,112.5 L270,109.17 L277.5,107 L290,106.67 L300,106.33 L313.33,105.33 L323.33,105.83 L333.33,106.67 L345,108.67 L340,110.33 L335,111.67 L333.33,115.83 L331.67,120 L328.33,125 L325,128.33 L321.67,130.83 L316.67,133.33 L311.67,135 L305,136.67 L298.33,139.17 L293.33,142.5 L290,146.67 L285.83,150.83 L282.5,154.17 L278.33,153.33 L274.17,150.83 L271.67,145.83 L270.33,140.83 L271.67,136.67 L274.17,132.5 L272.5,129.17 L274.17,125 L271.67,121.67 L268.33,118.33 L261.67,117.5 L256.67,117.5Z" fill="none" stroke="#bfbfbf" stroke-width="0.5" stroke-linejoin="round"/>
<path d="M386.33,212.5 L381.33,213.33 L374.67,214.17 L368,214.67 L361.33,215.33 L355.5,215.83 L352.17,216.67 L348,220 L344.67,223.33 L342.17,228.33 L339.67,232.5 L335.5,235.83 L331.33,240 L328,245 L325.5,250 L324.67,255 L325.5,260 L326.33,264.17 L324.67,267.5 L323.83,271.67 L325.5,275.83 L328.83,280 L332.17,284.17 L335.5,288.33 L339.67,292.5 L344.67,296.67 L347.17,298.33 L345,296.25 L355,295 L365,292.5 L373.75,297.5 L380,295 L382.5,296.67 L385,303.33 L383.33,308.33 L385,314.17 L389.17,319.17 L391.67,324.17 L393.33,330.83 L394.17,337.5 L391.67,343.33 L389.67,349.17 L390,355 L392.5,361.67 L395,368.33 L396.67,375 L398.33,381.67 L400.83,387.5 L402.5,390 L405,394 L412,399 L421,400.5 L430,399 L436,395 L434.17,384.17 L436.67,379.17 L439.17,375 L442.5,371.67 L443.33,366.67 L441.67,362.5 L445,358.33 L450,354.17 L454.17,350 L456.33,345.83 L455.83,340 L455,334.17 L453.33,329.17 L454.17,323.33 L455.83,318.33 L458.33,313.33 L461.67,309.17 L465.83,305 L470.83,300 L475,295 L477.5,290 L480,280 L478.75,277.5 L470,280 L462.5,280 L460,276.25 L455,268.75 L451.25,261.25 L447.5,252.5 L443.75,243.75 L440,235 L438.75,227.5 L440.5,225.83 L437.17,227.5 L431.33,227.5 L424.67,226.67 L418,225.83 L413.83,224.17 L408.83,224.17 L406.33,226.67 L402.17,227.5 L398,225 L393.83,224.17 L389.67,222.5 L387.17,219.17 L388.83,215.83Z" fill="none" stroke="#bfbfbf" stroke-width="0.5" stroke-linejoin="round"/>
<path d="M475.83,341.33 L477.5,343.33 L478,348.33 L476.67,354.17 L475,360 L472.5,366.67 L470,372.5 L466.67,375.83 L463.33,375 L460.83,370.83 L461.33,365 L463.33,359.17 L464.17,353.33 L467.5,350 L471.67,346.67 L474.17,343.33Z" fill="none" stroke="#bfbfbf" stroke-width="0.5" stroke-linejoin="round"/>
<path d="M590,298.33 L594.17,302.5 L598.33,308.33 L602.5,313.33 L605.83,318.33 L607.5,324.17 L605.83,325.83 L601.67,322.5 L597.5,317.5 L593.33,311.67 L590,306.67 L588.33,301.67Z" fill="none" stroke="#bfbfbf" stroke-width="0.5" stroke-linejoin="round"/>
<path d="M606.67,325 L611.67,325.83 L618.33,327.5 L625,329.17 L628.33,330.83 L626.67,332.5 L620,331.33 L613.33,330 L607.5,328Z" fill="none" stroke="#bfbfbf" stroke-width="0.5" stroke-linejoin="round"/>
<path d="M631.67,331.33 L645,330.83 L644.17,332.5 L632.5,333.33Z" fill="none" stroke="#bfbfbf" stroke-width="0.5" stroke-linejoin="round"/>
<path d="M646.67,333.33 L655,330.83 L655.83,332 L648.33,335.83Z" fill="none" stroke="#bfbfbf" stroke-width="0.5" stroke-linejoin="round"/>
<path d="M615,304.17 L620.83,300.83 L626.67,296.67 L631.67,291.67 L636.67,294.17 L635,298.33 L636.67,304.17 L634.17,310 L630.83,315.83 L626.67,318.33 L621.67,317.5 L617.5,314.17 L615,309.17Z" fill="none" stroke="#bfbfbf" stroke-width="0.5" stroke-linejoin="round"/>
<path d="M639.17,308.33 L643.33,306.33 L648.33,305.83 L651.67,305.33 L647.5,308.33 L643.33,310 L645.83,313.33 L647.5,318.33 L645,320 L643,315.83 L640.83,318.33 L640,322.5 L638.33,321.67 L638.67,315.83 L638,311.67Z" fill="none" stroke="#bfbfbf" stroke-width="0.5" stroke-linejoin="round"/>
<path d="M636.67,261.67 L640,260.83 L641.67,264.17 L640.83,268.33 L643.33,272.5 L647.5,275 L650,277.5 L647.5,278.67 L644.17,277.5 L641.67,275.83 L639.17,272.5 L637.5,268.33 L636.33,265Z" fill="none" stroke="#bfbfbf" stroke-width="0.5" stroke-linejoin="round"/>
<path d="M645,282.5 L649.17,281.67 L652.5,284.17 L654.17,289.17 L652.5,293.33 L650,294.17 L647.5,291.67 L645,290 L643.33,290.83 L644.17,287.5Z" fill="none" stroke="#bfbfbf" stroke-width="0.5" stroke-linejoin="round"/>
<path d="M632.5,286.67 L637.5,280 L638,280.83 L633.33,287.5Z" fill="none" stroke="#bfbfbf" stroke-width="0.5" stroke-linejoin="round"/>
<path d="M664.17,311.67 L668.33,310 L671.67,310.83 L673.33,314.17 L678.33,314.17 L683.33,313.33 L690,315.83 L696.67,320 L701.67,324.17 L705,330 L708.33,335.83 L705,336.67 L700.83,333.33 L696.67,330.83 L691.67,331.67 L686.67,331.67 L682.5,330 L680,326.67 L677.5,322.5 L673.33,320 L669.17,316.67 L665.83,314.17Z" fill="none" stroke="#bfbfbf" stroke-width="0.5" stroke-linejoin="round"/>
<path d="M705,323.33 L710,322.5 L714.17,319.17 L712.5,316.67 L715,318.33 L714.17,322.5 L709.17,325 L705.83,325.33Z" fill="none" stroke="#bfbfbf" stroke-width="0.5" stroke-linejoin="round"/>
<path d="M719.17,323.33 L723.33,326.67 L728.33,330 L727.5,330.83 L722.5,327.5Z" fill="none" stroke="#bfbfbf" stroke-width="0.5" stroke-linejoin="round"/>
<path d="M656.67,304.17 L658.67,305 L659.17,310.83 L657.5,310Z" fill="none" stroke="#bfbfbf" stroke-width="0.5" stroke-linejoin="round"/>
<path d="M654.17,317.5 L658.33,316.67 L663.33,317.5 L662.5,319.17 L656.67,318.67Z" fill="none" stroke="#bfbfbf" stroke-width="0.5" stroke-linejoin="round"/>
<path d="M615,398.75 L617.5,392.5 L617,385 L616.25,377.5 L617.5,370 L621.25,365 L628.75,362.5 L636.25,358.75 L642.5,353.75 L647.5,348.75 L653.75,346.25 L660,342.5 L666.25,338.75 L671.25,341.25 L676.25,341.25 L674.5,346.25 L678.75,351.25 L682.5,353.75 L685,348.75 L687,342.5 L689.5,338 L691.25,342.5 L693.75,348.75 L695.5,355 L698.75,361.25 L702.5,367.5 L705,373.75 L705.5,380 L703.75,387.5 L700,393.75 L696.25,400 L691.25,405 L686.25,408 L680,408.75 L675,411.25 L668.75,409.5 L665,405 L662.5,400 L663.75,396.25 L660,397.5 L657.5,393.75 L652.5,392.5 L645,393.75 L638.75,395 L632.5,397.5 L626.25,398.75 L620,400.5Z" fill="none" stroke="#bfbfbf" stroke-width="0.5" stroke-linejoin="round"/>
<path d="M667.5,416.25 L673.75,415 L676.25,417 L672.5,421.25 L668.75,422.5Z" fill="none" stroke="#bfbfbf" stroke-width="0.5" stroke-linejoin="round"/>
<path d="M738.75,400 L740.5,399.5 L742,405 L745.5,407.5 L742.5,410 L738.75,413 L735.5,416.25 L733,417.5 L732,415 L736.25,411.25 L738.75,406.25Z" fill="none" stroke="#bfbfbf" stroke-width="0.5" stroke-linejoin="round"/>
<path d="M705,428.75 L710,425 L717.5,421.25 L725,417.5 L730,415 L731.25,417.5 L726.25,421.25 L718.75,425 L712.5,428.75 L707.5,430.5Z" fill="none" stroke="#bfbfbf" stroke-width="0.5" stroke-linejoin="round"/>
<path d="M734.5,361.25 L736.25,361.25 L740,366.25 L738,367Z" fill="none" stroke="#bfbfbf" stroke-width="0.5" stroke-linejoin="round"/>
<path d="M743.75,347.5 L745,348 L745.5,352.5 L744.25,352Z" fill="none" stroke="#bfbfbf" stroke-width="0.5" stroke-linejoin="round"/>
<path d="M766.25,355 L768.75,353.75 L773.75,351.25 L773,353 L768.75,356.25Z" fill="none" stroke="#bfbfbf" stroke-width="0.5" stroke-linejoin="round"/>
<path d="M546.25,283 L549.5,285 L550.5,290 L548,293 L546,288.75Z" fill="none" stroke="#bfbfbf" stroke-width="0.5" stroke-linejoin="round"/>
<path d="M44.17,168.33 L50.83,165.33 L57.5,162.5 L61.67,160 L60,157 L61.67,154.17 L60.83,151.67 L65,148.67 L70,147.5 L75,146.67 L80,145 L76.67,144.17 L70.83,143.33 L70.83,141.33 L75.83,140.33 L80.83,139.17 L82.5,135.83 L86.67,133.33 L93.33,131.33 L100,130 L107.5,128.67 L113.33,129.67 L120,130.83 L128.33,132 L135,133 L143.33,131.67 L151.67,130.83 L150,131.2 L153,130.8 L156,132 L160,132.5 L165,134 L168,135.5 L170,137 L178,137 L180,135.5 L185,135 L190,136.2 L195,135.5 L199,137 L202,135 L204,133 L205,130 L207.5,128.5 L210,128 L211.5,131 L212.5,134 L214.5,135 L220,132 L226,133 L224,136 L220,138.5 L216,139.5 L214,138 L211,141.5 L208,144.5 L204,147 L199,149 L194,151 L190,153.5 L187.5,157 L188.5,160.5 L192,162.5 L196,164 L198.33,164.17 L202.5,166.67 L203.33,170.83 L203.67,174.17 L205.83,175.83 L208.33,173.33 L208.67,168.33 L212.5,165.83 L216.67,164.17 L218.33,160 L219.17,155 L220.83,150.83 L223.33,148.67 L230,149.17 L234.17,151.67 L236.67,157.5 L240.83,155.83 L244.17,154.17 L245.83,158.33 L246.67,162.5 L250,165.33 L253.33,169.33 L254,172.67 L252.67,174.67 L248.67,176 L244.67,178 L240.67,178.93 L236.67,178.67 L232.67,179.33 L228.67,180.67 L224.67,182.67 L221.33,184.67 L219.33,186.4 L223.33,184.67 L228.67,182 L232,182.67 L232.67,185.33 L230.67,187.33 L232.67,188.67 L236,188.67 L239.33,186.67 L240,188.67 L237.33,191.33 L232.67,192.67 L228.67,194 L226,195.33 L224.67,193.33 L226.67,192 L224,191.73 L221.33,192.67 L218,194.4 L216,195.33 L215.33,198.67 L212.67,200 L208.67,202 L206,202.67 L203.33,205.33 L201.33,207.33 L199.33,210 L198.67,214 L198,217.33 L194,220.67 L190,223.33 L186,226 L183.33,228.67 L183.33,232.67 L184,236.67 L183.73,240 L183.33,240 L181.67,243.67 L180,241.67 L179.17,237.5 L177.5,233.33 L173.33,231.67 L167.5,230.83 L163.33,232.5 L156.67,232.5 L151.67,234.17 L147.5,237.5 L145,241.67 L143.33,239.17 L140.83,235 L138.33,230.83 L135,232.5 L130.83,231.67 L127.5,228.33 L124.17,226.67 L116.67,226.67 L111.67,224.67 L105.83,224.17 L101.67,219.17 L99.67,214.17 L98.33,206.67 L103.33,197.5 L106.67,192.5 L110.83,188.33 L114.17,185.83 L115,182.5 L113.33,180 L110,177.5 L110.83,173.33 L110.83,168.33 L114.17,165 L112.5,164.17 L112.5,158.33 L110,155.83 L105.83,156.67 L103.33,154.17 L96.67,154.17 L91.67,152.5 L88.33,151.67 L81.67,155.83 L75,158.67 L68.33,160.83 L61.67,163.67 L53.33,166.33Z" fill="#c89870" stroke="#8a8a8a" stroke-width="0.5" stroke-linejoin="round"/>
<path d="M128.33,132 L104.67,154.17" fill="none" stroke="#8a8a8a" stroke-width="0.6" stroke-linejoin="round"/>
<path d="M115,182 L160,182 L170,181.33 L175.33,182.67 L180.67,184 L185.33,184.67 L188.67,186.67 L191.33,190 L192,193.33 L190,196.67 L188,199.33 L190,200 L194,198 L198,196 L202,194.4 L205.33,193.33 L208.67,192 L212.67,191.33 L216,190 L218.67,187.33 L221.33,186 L223.6,186 L224,188.67 L224,191.73" fill="none" stroke="#8a8a8a" stroke-width="0.6" stroke-linejoin="round"/>
<path d="M106.67,178 L109.17,177.5 L113.33,182.5 L114.17,185 L111.67,183.33 L107.5,180Z" fill="#c89870" stroke="#8a8a8a" stroke-width="0.5" stroke-linejoin="round"/>
<path d="M103.33,169.67 L106.67,168.67 L105,174.17 L103.33,173.33Z" fill="#c89870" stroke="#8a8a8a" stroke-width="0.5" stroke-linejoin="round"/>
<path d="M70,160 L75.83,159.17 L75,161.33 L70.83,162Z" fill="#c89870" stroke="#8a8a8a" stroke-width="0.5" stroke-linejoin="round"/>
<path d="M55.83,145.83 L60.83,145.83 L60,147.5 L56.67,147Z" fill="#c89870" stroke="#8a8a8a" stroke-width="0.5" stroke-linejoin="round"/>
<path d="M55,153.83 L58.33,153.83 L58.33,154.83 L55,154.83Z" fill="#c89870" stroke="#8a8a8a" stroke-width="0.5" stroke-linejoin="round"/>
<path d="M159.5,127 L167,122.8 L173,122.2 L179,123 L180,125 L181,126 L186,126.5 L190,125 L194,124 L196.5,124.5 L194,126.5 L193,129 L195,131.5 L193,133.5 L188,134.5 L184,134 L179,134.5 L173,134 L169.5,133 L167.5,130.5 L163,129.5Z" fill="#c89870" stroke="#8a8a8a" stroke-width="0.5" stroke-linejoin="round"/>
<path d="M175.5,118.5 L183,116.5 L189,116 L187,117.5 L182,118.5 L178,119Z" fill="#c89870" stroke="#8a8a8a" stroke-width="0.5" stroke-linejoin="round"/>
<path d="M181,120.5 L185,119 L190,118.5 L194,119 L197,117.5 L200,119 L199,120.5 L194,121 L190,121.5 L185,122Z" fill="#c89870" stroke="#8a8a8a" stroke-width="0.5" stroke-linejoin="round"/>
<path d="M194,115.5 L199,114 L201.5,113.5 L200,115 L196,116Z" fill="#c89870" stroke="#8a8a8a" stroke-width="0.5" stroke-linejoin="round"/>
<path d="M205.5,119 L210,118 L214,118.5 L212.5,120.5 L208,121Z" fill="#c89870" stroke="#8a8a8a" stroke-width="0.5" stroke-linejoin="round"/>
<path d="M208.5,113.5 L212,112.5 L215.5,113.5 L214,115 L210,114.5Z" fill="#c89870" stroke="#8a8a8a" stroke-width="0.5" stroke-linejoin="round"/>
<path d="M218,114.5 L221,113.5 L222,115 L219,115.5Z" fill="#c89870" stroke="#8a8a8a" stroke-width="0.5" stroke-linejoin="round"/>
<path d="M198.5,126 L203,124 L207,123.5 L208.5,124.5 L206,127 L203,128.5 L200,127.5Z" fill="#c89870" stroke="#8a8a8a" stroke-width="0.5" stroke-linejoin="round"/>
<path d="M210,124.5 L214,123 L219,123 L218,124.5 L214,125.5 L211.5,126.5Z" fill="#c89870" stroke="#8a8a8a" stroke-width="0.5" stroke-linejoin="round"/>
<path d="M197,132.5 L200,131.2 L202.5,133.5 L200,134.2Z" fill="#c89870" stroke="#8a8a8a" stroke-width="0.5" stroke-linejoin="round"/>
<path d="M210,143.5 L214,141.8 L219,144 L217,146 L213,146.5Z" fill="#c89870" stroke="#8a8a8a" stroke-width="0.5" stroke-linejoin="round"/>
<path d="M212,148.5 L215,147.5 L216,148.8 L213,149.8Z" fill="#c89870" stroke="#8a8a8a" stroke-width="0.5" stroke-linejoin="round"/>
<path d="M224.5,111.5 L229,109.5 L236,108.5 L244,107.2 L254,106.5 L266,106.2 L277.5,106.8 L274,108 L268,109.5 L261,110.5 L255,111.5 L251,114 L246,116 L241,117.5 L236,118.5 L231,118.5 L227.5,118 L230,116.5 L234,115 L233,114 L228,114 L225.5,113Z" fill="#c89870" stroke="#8a8a8a" stroke-width="0.5" stroke-linejoin="round"/>
<path d="M220,118.5 L225,117.5 L230,119 L238,119.5 L239,121 L232,121.8 L225,122.2 L221,121Z" fill="#c89870" stroke="#8a8a8a" stroke-width="0.5" stroke-linejoin="round"/>
<path d="M218,114 L221,113.5 L222,115.5 L219.5,116Z" fill="#c89870" stroke="#8a8a8a" stroke-width="0.5" stroke-linejoin="round"/>
<path d="M214,113.5 L215.5,113.5 L215.5,115 L214,115Z" fill="#c89870" stroke="#8a8a8a" stroke-width="0.5" stroke-linejoin="round"/>
<path d="M216.5,117 L220,116.8 L220.5,118 L217,118.2Z" fill="#c89870" stroke="#8a8a8a" stroke-width="0.5" stroke-linejoin="round"/>
<path d="M216.5,129 L218.5,126 L223.5,124.5 L228,124.8 L232.5,124 L233.5,126 L238,125 L241,126.5 L244,129 L248,129.5 L250.5,132 L250,135 L253.5,137 L256.5,138.5 L255,140.5 L252,141.5 L248.5,142 L247,144 L248,147 L245,147.5 L243.5,149.5 L240,148 L237.5,147 L234,145.5 L231,144.5 L226,144.5 L225,143.2 L229,142.5 L232.5,142 L235.5,139.5 L238,137 L236.5,135.5 L233.5,136 L231.5,137.8 L232.5,134.5 L230,132 L226,131.8 L223,132.5 L220,130.5Z" fill="#c89870" stroke="#8a8a8a" stroke-width="0.5" stroke-linejoin="round"/>
<path d="M204,119.5 L209,119 L214,119 L216,120 L214,121.5 L208,121.8Z" fill="#c89870" stroke="#8a8a8a" stroke-width="0.5" stroke-linejoin="round"/>
<path d="M242.67,184.67 L245.33,181.33 L248.67,178 L251.33,176 L253.33,175.33 L252,178 L254,180 L255.6,183.33 L255.33,186 L253.33,187.73 L252,186 L250,186.67 L247.33,186 L244.67,185.6Z" fill="#c89870" stroke="#8a8a8a" stroke-width="0.5" stroke-linejoin="round"/>
<path d="M105.83,224.17 L111.67,224.67 L116.67,226.67 L124.17,226.67 L127.5,228.33 L130.83,231.67 L135,232.5 L138.33,230.83 L140.83,235 L143.33,239.17 L145,241.67 L143.67,245.83 L143.33,251.67 L144.17,256.67 L147.5,260.83 L151.67,261.67 L155.83,260 L158.33,255 L162.5,253.33 L166.67,253.33 L165,257.5 L163.33,260.83 L161.67,262.5 L160.83,265 L160,267.5 L157.5,270.83 L155.83,273 L152.5,271.67 L148.33,268.33 L145,266.67 L140,267.5 L135,264.17 L130,260.83 L125.83,258.33 L123.33,255.83 L124.17,251.67 L121.67,247.5 L118.33,242.5 L115,236.67 L113.33,231.67 L112.5,227.5 L110.83,227.5 L110,231.67 L111.67,235.83 L113.33,240 L115,244.17 L116.67,247.5 L115.83,249.5 L113.33,247.5 L111.67,243.33 L109.17,240 L106.67,237.5 L107.5,234.17 L106.33,230Z" fill="#ae2b40" stroke="#8a8a8a" stroke-width="0.5" stroke-linejoin="round"/>
<path d="M152.5,271.67 L153,267.5 L155.83,264.17 L158.33,262.5 L161.67,262.5" fill="none" stroke="#8a2234" stroke-width="0.5" stroke-linejoin="round"/>
<path d="M160.83,268.33 L165,267.5 L169.17,267.5 L172.5,270 L171.67,275 L170,280 L172.5,283.33 L172.83,287 L170,285.83 L167.5,281.67 L165,278.33 L163.33,275 L160,272.5 L157.5,270.83 L160,267.5Z" fill="#c89870" stroke="#8a8a8a" stroke-width="0.5" stroke-linejoin="round"/>
<path d="M163.33,274.5 L166.33,272.5 L169.67,270" fill="none" stroke="#8a8a8a" stroke-width="0.6" stroke-linejoin="round"/>
<path d="M172.5,284.67 L175,285.83 L177.5,287.5 L180.83,285 L184.17,285.83 L186.33,288.67 L183.33,287.83 L180.83,287.5 L178.33,290.33 L175.83,289.17 L173.33,287.33Z" fill="#7399c8" stroke="#8a8a8a" stroke-width="0.5" stroke-linejoin="round"/>
<path d="M171.67,251.67 L175,249.67 L180,249.17 L185,250.83 L190,253.33 L194.17,255.83 L192.5,257.5 L188.33,257.5 L185.83,255 L182.5,252.5 L176.67,252Z" fill="#7399c8" stroke="#8a8a8a" stroke-width="0.5" stroke-linejoin="round"/>
<path d="M200,258.33 L203.33,257.5 L207.5,260.33 L205,262 L200.33,263Z" fill="#c89870" stroke="#8a8a8a" stroke-width="0.5" stroke-linejoin="round"/>
<path d="M184.17,288.33 L185.83,284.17 L190,280.83 L195,279.17 L199.17,277 L201.23,280.18 L204.98,280.78 L209.48,281.98 L213.97,282.73 L219.22,281.98 L221.77,281.53 L222.67,284.68 L225.22,288.28 L223.72,291.72 L222.67,296.22 L223.72,296.22 L225.22,300.72 L227.17,304.47 L230.46,305.22 L234.96,303.72 L239.46,302.67 L243.21,302.97 L245.16,299.97 L246.67,302.5 L247.5,306.67 L250.83,309.17 L256.67,311.67 L263.33,315 L270,316.67 L276.67,319.17 L280.83,322.5 L282.83,326.67 L282.5,331.67 L280,336.67 L276.67,342.5 L275,348.33 L274.17,355 L273.33,361.67 L272.5,361.67 L270,365 L269.17,368.33 L263.33,370 L258.33,372.5 L255,376.67 L254.17,381.67 L252.5,386.67 L249.17,391.67 L246.67,396.67 L244.17,400 L240.83,400 L238.33,399.17 L236.67,400.83 L239.17,404.17 L240.83,406.67 L239.17,409.17 L235,410 L230.83,411.67 L230,415.83 L225.83,416.67 L226.67,420 L229.17,421.67 L227.5,425.83 L225,428.33 L225.83,431.67 L228.33,432.5 L227.5,435.83 L225.83,439.17 L225,442.5 L227.5,445.83 L230,447.5 L233.33,450 L236.67,450.83 L235.83,452.5 L231.67,453 L226.67,451.67 L221.67,449.17 L217.5,445.83 L214.17,441.67 L211.67,437.5 L209.17,432.5 L208.33,428.33 L209.17,424.17 L207.5,420.83 L206.67,415 L205.83,410 L204.17,406.67 L205,400.83 L205,395 L204.67,388.33 L204.17,381.67 L204.17,375 L203.67,368.33 L203.33,361.67 L202.5,357.5 L203.33,357 L200,355 L194.17,351.67 L189.17,346.67 L185.83,340.83 L182.5,335 L179.17,329.17 L176.67,324.17 L175.83,320.83 L177,315.83 L176.67,311.67 L179.17,306.67 L182.5,302.5 L184.17,298.33 L183.33,293.33Z" fill="#7399c8" stroke="#8a8a8a" stroke-width="0.5" stroke-linejoin="round"/>
<path d="M199.28,278.23 L201.23,280.18 L204.98,280.78 L209.48,281.98 L213.97,282.73 L219.22,281.98 L221.77,281.53 L222.67,284.68 L225.22,288.28 L223.72,291.72 L222.67,296.22 L219.22,298.47 L215.77,299.22 L215.17,301.47 L216.67,303.27 L213.97,305.97 L211.27,307.17 L209.18,305.22 L208.28,300.72 L207.68,296.22 L204.98,293.22 L201.23,291.72 L198.23,289.48 L196.43,286.78 L195.98,284.23 L197.48,281.68Z" fill="#ae2b40" stroke="#8a8a8a" stroke-width="0.5" stroke-linejoin="round"/>
<path d="M197.93,282.43 L199.28,281.98 L199.58,284.98 L198.38,285.43Z" fill="#fff" stroke="#8a2234" stroke-width="0.3" stroke-linejoin="round"/>
<path d="M179.17,306.67 L182.5,305.83 L185.83,307.5 L189.17,310 L190,313.33 L194.17,315 L200,316.67 L200.83,319.17 L197.5,322.5 L195,325.83 L193.67,329.17 L195.83,332.5 L199.17,336.67 L203.33,339.17 L205,343.33 L204.67,350 L204.17,356.67 L200,355 L194.17,351.67 L189.17,346.67 L185.83,340.83 L182.5,335 L179.17,329.17 L176.67,324.17 L175.83,320.83 L177,315.83 L176.67,311.67Z" fill="#ae2b40" stroke="#8a8a8a" stroke-width="0.5" stroke-linejoin="round"/>
<path d="M177.5,320 L180.83,321.67 L185.83,316.67 L190,312.5" fill="none" stroke="#8a2234" stroke-width="0.5" stroke-linejoin="round"/>
<path d="M229.72,292.47 L230.46,298.47 L230.46,305.22" fill="none" stroke="#ccc" stroke-width="0.6" stroke-linejoin="round"/>
<path d="M237.21,294.27 L236.76,299.22 L237.66,302.97" fill="none" stroke="#ccc" stroke-width="0.6" stroke-linejoin="round"/>
<path d="M207.5,302.5 L202.5,305 L203.33,310 L202.5,315 L200.83,318.33" fill="none" stroke="#5a7aa3" stroke-width="0.6" stroke-linejoin="round"/>
<path d="M203.33,338.33 L207.5,336.67 L212.5,334.17 L214.17,339.17 L220,342.5 L224.17,346.67 L228.33,351.67 L231.67,355.83 L232.5,360.83 L231.67,365" fill="none" stroke="#5a7aa3" stroke-width="0.6" stroke-linejoin="round"/>
<path d="M184.17,288.33 L185.83,290 L184.17,292.5" fill="none" stroke="#5a7aa3" stroke-width="0.6" stroke-linejoin="round"/>
<path d="M206.67,360 L208.33,365 L210,369.17 L209.17,373.33 L207.5,380 L207.5,386.67 L208.33,393.33 L210,399.17 L209.67,405 L210.83,411.67 L212.5,418.33 L215,425 L216.67,431.67 L215.83,437.5 L218.33,442.5 L222.5,445.83 L225.83,446.33" fill="none" stroke="#5a7aa3" stroke-width="0.6" stroke-linejoin="round"/>
<path d="M210,369.17 L214.17,366.67 L219.17,367.5 L223.33,368.33 L227.5,371.67 L231.67,375 L232.5,380 L236.67,380.83 L240.83,378.33 L241.67,381.67 L239.17,385.83 L235.83,388.33 L235.83,393.33 L236.67,397.5 L238.33,399.17" fill="none" stroke="#5a7aa3" stroke-width="0.6" stroke-linejoin="round"/>
<path d="M223.33,368.33 L221.67,363.33 L223.33,360.83 L227.5,359.67 L231.67,361.67 L233.33,366.67 L238.33,369.17 L240.83,371.67 L241.33,375.83 L240.83,378.33" fill="none" stroke="#5a7aa3" stroke-width="0.6" stroke-linejoin="round"/>
<path d="M235.83,388.33 L240.83,390.33 L246.67,394.17" fill="none" stroke="#5a7aa3" stroke-width="0.6" stroke-linejoin="round"/>
<path d="M214.17,366.67 L215.83,364.17 L221.67,363.33" fill="none" stroke="#5a7aa3" stroke-width="0.6" stroke-linejoin="round"/>
<path d="M203.67,355 L205.33,357.5 L206.67,360" fill="none" stroke="#5a7aa3" stroke-width="0.6" stroke-linejoin="round"/>
<path d="M423.33,190.83 L427.5,189.17 L433.33,190.83 L440,191.67 L445,195 L450,198.33 L448.33,200.83 L441.67,200 L435.83,200.83 L430,200 L425,197.5 L422.5,194.17Z" fill="#fff" stroke="#bfbfbf" stroke-width="0.6" stroke-linejoin="round"/>
<path d="M461.67,190.83 L465.83,189.17 L469.17,191.67 L467.5,195 L470,199.17 L473.33,202.5 L476.67,205.83 L477.5,210 L474.17,212.5 L470,210.83 L468.33,206.67 L465.83,201.67 L463.33,197.5 L462,194.17Z" fill="#fff" stroke="#bfbfbf" stroke-width="0.6" stroke-linejoin="round"/>
<path d="M397.5,147.5 L400.83,145 L403.67,148.33 L403,153.33 L405,157.5 L410,156.67 L415,156.33 L410,159.17 L405.83,160.83 L403.67,164.17 L401.67,167.5 L399.17,170 L394.17,170.83 L390,170 L387.5,167.5 L389.17,164.17 L392.5,160.83 L395,155.83 L395.83,150.83Z" fill="#fff" stroke="#bfbfbf" stroke-width="0.6" stroke-linejoin="round"/>
<path d="M540,181.25 L545,178.75 L550,179.5 L557.5,175 L565,176.25 L572.5,178.75 L580,180 L587.5,181.25 L596.25,180" fill="none" stroke="#bfbfbf" stroke-width="0.5" stroke-linejoin="round"/>
<path d="M400.83,130 L401.67,135.83 L400,140.83 L397.5,147.5" fill="none" stroke="#bfbfbf" stroke-width="0.5" stroke-linejoin="round"/>
<path d="M411.67,130.83 L410,138.33 L415,146.67 L416.67,155" fill="none" stroke="#bfbfbf" stroke-width="0.5" stroke-linejoin="round"/>
<path d="M416.67,155 L417.5,161.67 L421.67,166.67 L426.67,173.33 L435,180 L442.5,183.33 L441.67,188.33" fill="none" stroke="#bfbfbf" stroke-width="0.5" stroke-linejoin="round"/>
<path d="M470,233.33 L478.33,248.33 L486.67,256.67 L493.33,251.67" fill="none" stroke="#bfbfbf" stroke-width="0.5" stroke-linejoin="round"/>
<path d="M378.67,181.33 L383.33,180 L386.67,176.67 L385,171.67 L387.5,168.67" fill="none" stroke="#bfbfbf" stroke-width="0.5" stroke-linejoin="round"/>
<path d="M386.67,176.67 L395,175.83 L400,178.33 L403.33,175 L401.67,169.17" fill="none" stroke="#bfbfbf" stroke-width="0.5" stroke-linejoin="round"/>
<path d="M391.33,188.33 L396.67,186.67 L403.33,185 L408.33,187.5 L413.33,186.67 L420,188.33" fill="none" stroke="#bfbfbf" stroke-width="0.5" stroke-linejoin="round"/>
<path d="M403.33,175 L410,176.67 L416.67,175 L423.33,178.33 L420,188.33" fill="none" stroke="#bfbfbf" stroke-width="0.5" stroke-linejoin="round"/>
<path d="M400,178.33 L403.33,185" fill="none" stroke="#bfbfbf" stroke-width="0.5" stroke-linejoin="round"/>
<path d="M408.33,187.5 L410,196.67 L415,202" fill="none" stroke="#bfbfbf" stroke-width="0.5" stroke-linejoin="round"/>
<path d="M400.83,200 L406.67,196.67 L410,196.67" fill="none" stroke="#bfbfbf" stroke-width="0.5" stroke-linejoin="round"/>
<path d="M540,181.25 L546.25,185 L550,190 L558.75,191.25 L566.25,196.25 L575,198.75 L585,200 L592.5,196.25 L598.75,192.5 L606.25,187.5 L600,185 L596.25,183.75 L597.5,180 L601.25,177.5 L600,172.5 L605,170.75 L611.25,172 L617.5,176.25 L623.75,181.25 L630,183.75 L636.25,183 L637.5,191.25 L637.5,193.33 L635,197.5 L631.67,200.83 L627.5,203.33 L623.33,206.67 L620,204.17 L615.83,207.5 L618.33,210 L620,208.33 L621.67,211.67 L626.67,212.5 L623.33,215 L625,219.17 L628.33,223.33 L631.67,227.5 L633.67,232.5 L633,238.33 L630,243.33 L625,247.5 L620,250.83 L615.83,252.5 L611.67,254.17 L606.67,253.33 L602.5,250.83 L598.33,250 L594.17,250.83 L591.67,253.33 L588.33,250.83 L585,248.33 L582.5,245 L580.83,240 L580,237.5 L577.5,240 L575,243.33 L573,247.5 L571.67,250.83 L570,247.5 L568.33,244.17 L569.17,240.83 L566.67,240 L562.5,240.83 L560.83,243.33 L562.5,247.5 L563.33,252.5 L560.33,256.17 L556.33,261.67 L551.33,265.83 L547.5,270 L547,275 L546.17,280.83 L544.67,286.33 L542,288.67 L539.17,284.17 L535.83,278.33 L532.5,271.67 L530,265.83 L528.33,260.83 L526.67,255.83 L525.83,253 L521.67,254.17 L519.17,250.83 L516.67,247.5 L520.83,245.83 L521.67,243.33 L519.17,241.67 L520,238.33 L523.33,235 L525.83,231.67 L527.5,227.5 L526.67,223.33 L524.17,220 L527.5,218.33 L530,215.83 L526.67,213.33 L523.33,210 L520.83,206.67 L521.67,204.17 L526.67,201.67 L530.83,198.33 L531.67,194.17 L530,190Z M540.83,231.67 L544.17,230 L548.33,231.67 L553.33,234.17 L558.33,235.83 L560.83,237.5 L560,239.67 L555,239.17 L550,237.5 L545,235.83 L541.67,234.17Z M561.67,237.5 L565.83,236.67 L568.33,238.33 L565.83,239.67 L562.5,239.5Z" fill="#ae2b40" fill-rule="evenodd" stroke="#8a8a8a" stroke-width="0.5" stroke-linejoin="round"/>
<path d="M609.33,257.33 L612.67,256.33 L614.17,259 L612,261.83 L609.33,260.33Z" fill="#ae2b40" stroke="#8a8a8a" stroke-width="0.5" stroke-linejoin="round"/>
<path d="M530,215.83 L534.17,217.5 L535.83,222.5 L538.33,225.83 L540.83,230" fill="none" stroke="#8a2234" stroke-width="0.5" stroke-linejoin="round"/>
<path d="M568.33,238.33 L571.67,234.17 L576.67,233 L580,237.5" fill="none" stroke="#8a2234" stroke-width="0.5" stroke-linejoin="round"/>
<path d="M351.67,160 L354.17,158 L356.67,158.67 L357.5,161.67 L359.67,161.33 L360,164.17 L361.67,167 L363.33,170 L365.83,172.5 L366.33,175 L363.33,176.33 L359.17,177 L355,178.33 L352,179.17 L353.33,176.67 L355.83,175 L353.33,173.67 L355,171.33 L354.17,168 L352,165.33 L351.33,162.5Z" fill="#7399c8" stroke="#8a8a8a" stroke-width="0.5" stroke-linejoin="round"/>
<path d="M348,167 L350.83,166.33 L351.67,168.33 L349.17,169.67Z" fill="#7399c8" stroke="#8a8a8a" stroke-width="0.5" stroke-linejoin="round"/>
<path d="M354.17,183 L358.33,182 L360.83,180.33 L365,178.67 L367,177 L370.83,178.33 L375,179.67 L378.67,181.33 L377.5,184.67 L377,187.5 L378.33,190.83 L377.5,194.17 L380,195.83 L376.67,196.67 L372.5,196.33 L369.17,197.5 L368.33,199.17 L364.17,198.33 L360,196.67 L360.83,192.5 L360,188.33 L359.17,185.83 L355,185Z" fill="#ae2b40" stroke="#8a8a8a" stroke-width="0.5" stroke-linejoin="round"/>
<path d="M380.5,197.5 L382,197 L382.33,200 L380.83,200.83Z" fill="#ae2b40" stroke="#8a8a8a" stroke-width="0.5" stroke-linejoin="round"/>
<path d="M343.67,196.67 L348.33,195.33 L353.33,195.83 L360,196.33 L364.17,198.33 L368.33,199.17 L369.17,200.83 L365.83,203.33 L363.33,205.83 L361.67,209.17 L358.33,210.83 L355,212 L352.5,213 L350.83,214.67 L349.17,213.33 L344.67,212.5 L343.67,208.33 L342.5,205.83 L344.17,201.67 L343.33,199.17Z" fill="#ae2b40" stroke="#8a8a8a" stroke-width="0.5" stroke-linejoin="round"/>
<path d="M348,198 L348.67,201.67 L347.5,205.83 L348,210 L346.67,212.5" fill="none" stroke="#8a2234" stroke-width="0.5" stroke-linejoin="round"/>
<path d="M360,196.33 L364.17,198.33 L368.33,199.17" fill="none" stroke="#8a2234" stroke-width="0.5" stroke-linejoin="round"/>
<path d="M377.5,190.83 L380,189.67 L383.33,187.5 L387.5,187 L390.83,188.33 L391.33,190.33 L389.17,191.33 L390.33,194.17 L393.33,197.5 L396.67,200.83 L400,202.5 L402,204.17 L400,205 L398,204.67 L398.33,207.5 L396.67,210 L395.33,209.17 L395.83,206.67 L393.33,203.33 L390.33,200.83 L387.5,197.5 L385.83,195 L383,193.67 L380,195.33 L378.33,194.17Z" fill="#7399c8" stroke="#8a8a8a" stroke-width="0.5" stroke-linejoin="round"/>
<path d="M389.67,210.83 L393.33,209.67 L396.67,210.33 L395.83,213.33 L392.5,212.5Z" fill="#7399c8" stroke="#8a8a8a" stroke-width="0.5" stroke-linejoin="round"/>
<path d="M380.5,202.5 L383,201.67 L383.67,205.83 L381.67,207.5 L380.33,206.33Z" fill="#7399c8" stroke="#8a8a8a" stroke-width="0.5" stroke-linejoin="round"/>
<path d="M361.33,215.33 L359.67,221.67 L353.83,225.83 L344.67,231.67 L343.83,237.5" fill="none" stroke="#bfbfbf" stroke-width="0.5" stroke-linejoin="round"/>
<path d="M380.5,216.67 L382.17,223.33 L385.5,227.5 L384.67,233.33 L385.5,241.67 L389.67,247.5" fill="none" stroke="#bfbfbf" stroke-width="0.5" stroke-linejoin="round"/>
<path d="M343.83,239.17 L371.33,259.17 L389.67,247.5 L396.33,249.17" fill="none" stroke="#bfbfbf" stroke-width="0.5" stroke-linejoin="round"/>
<path d="M418,225.83 L418.83,251.67" fill="none" stroke="#bfbfbf" stroke-width="0.5" stroke-linejoin="round"/>
<path d="M418.83,251.67 L444.67,251.67" fill="none" stroke="#bfbfbf" stroke-width="0.5" stroke-linejoin="round"/>
<path d="M396.33,249.17 L418,259.17 L418.83,251.67" fill="none" stroke="#bfbfbf" stroke-width="0.5" stroke-linejoin="round"/>
<path d="M348,243.33 L349.67,268.33 L336.33,269.17" fill="none" stroke="#bfbfbf" stroke-width="0.5" stroke-linejoin="round"/>
<path d="M324.67,254.17 L333.83,253.33 L334.67,248.33 L338,246.67 L338.83,241.67 L343.83,241.67 L343.83,237.5" fill="none" stroke="#bfbfbf" stroke-width="0.5" stroke-linejoin="round"/>
<path d="M371.33,259.17 L372.17,266.67 L364.67,271.67 L356.33,273.33 L353,278.33" fill="none" stroke="#bfbfbf" stroke-width="0.5" stroke-linejoin="round"/>
<path d="M374.67,278.33 L376.33,274.17 L384.67,275 L393,274.17 L397.17,278.33 L395.5,285 L391.33,290 L386.33,295 L381.33,298.33" fill="none" stroke="#bfbfbf" stroke-width="0.5" stroke-linejoin="round"/>
<path d="M396.33,249.17 L398.83,256.67 L397.17,266.67 L398,274.17 L395.5,276.67" fill="none" stroke="#bfbfbf" stroke-width="0.5" stroke-linejoin="round"/>
<path d="M418,259.17 L417.17,271.67 L414.67,277.5 L411.33,281.67 L407.17,285 L401.33,286.67" fill="none" stroke="#bfbfbf" stroke-width="0.5" stroke-linejoin="round"/>
<path d="M417.17,271.67 L428,283.33 L438,280 L444.67,275 L449.67,266.67" fill="none" stroke="#bfbfbf" stroke-width="0.5" stroke-linejoin="round"/>
<path d="M336.33,269.17 L338,275 L343,278.33 L344.67,286.67 L345.5,297.5" fill="none" stroke="#bfbfbf" stroke-width="0.5" stroke-linejoin="round"/>
<path d="M353,278.33 L356.33,280 L357.17,293.33" fill="none" stroke="#bfbfbf" stroke-width="0.5" stroke-linejoin="round"/>
<path d="M364.67,271.67 L365.5,280 L366.33,293.33" fill="none" stroke="#bfbfbf" stroke-width="0.5" stroke-linejoin="round"/>
<path d="M395.83,290 L396.67,296.67 L401.67,300 L405,297.5 L413.33,296.67 L423.33,295.83 L430,300 L433.33,299.17" fill="none" stroke="#bfbfbf" stroke-width="0.5" stroke-linejoin="round"/>
<path d="M433.33,299.17 L431.67,306.67 L430,315 L431.67,323.33 L433.33,330 L437.5,333.33 L440,335" fill="none" stroke="#bfbfbf" stroke-width="0.5" stroke-linejoin="round"/>
<path d="M391.67,324.17 L400,325 L405,329.17 L410,327.5 L413.33,333.33 L414.17,338.33 L420,339.17 L428.33,341.67" fill="none" stroke="#bfbfbf" stroke-width="0.5" stroke-linejoin="round"/>
<path d="M390,354.17 L400,355 L410,355.83 L420,355.83 L423.33,361.67 L430,365.83 L435,366.67" fill="none" stroke="#bfbfbf" stroke-width="0.5" stroke-linejoin="round"/>
<path d="M410,355.83 L409.17,365 L407.5,373.33 L408.33,380" fill="none" stroke="#bfbfbf" stroke-width="0.5" stroke-linejoin="round"/>
<path d="M414.17,338.33 L412.5,346.67 L413.33,351.67 L420,355.83" fill="none" stroke="#bfbfbf" stroke-width="0.5" stroke-linejoin="round"/>
<path d="M440,335 L446.67,339.17 L455.83,338.33" fill="none" stroke="#bfbfbf" stroke-width="0.5" stroke-linejoin="round"/>
<path d="M433.33,299.17 L441.67,300 L443.33,306.67 L441.67,311.67 L451.67,320.83" fill="none" stroke="#bfbfbf" stroke-width="0.5" stroke-linejoin="round"/>
<path d="M441.67,311.67 L431.67,313.33" fill="none" stroke="#bfbfbf" stroke-width="0.5" stroke-linejoin="round"/>
<path d="M441.67,300 L446.67,296.67 L456.67,300 L457.5,310 L458.33,313.33" fill="none" stroke="#bfbfbf" stroke-width="0.5" stroke-linejoin="round"/>
<path d="M428.33,341.67 L433.33,338.33 L438.33,335 L440,335" fill="none" stroke="#bfbfbf" stroke-width="0.5" stroke-linejoin="round"/>
<path d="M435,366.67 L437.5,360 L436.67,353.33 L430,349.17 L428.33,341.67" fill="none" stroke="#bfbfbf" stroke-width="0.5" stroke-linejoin="round"/>
<path d="M687.5,315 L687,331.67" fill="none" stroke="#bfbfbf" stroke-width="0.5" stroke-linejoin="round"/>
<path d="M8.8,257.5 L11,256.6 L12.2,258.5 L10.5,260 L9,259.8Z" fill="#c89870" stroke="#8a8a8a" stroke-width="0.3" stroke-linejoin="round"/>
<path d="M2,250.8 L3.4,251 L3,252Z" fill="#c89870" stroke="#8a8a8a" stroke-width="0.3" stroke-linejoin="round"/>
<path d="M5,252.5 L6.8,253.2 L6.5,253.9 L5.2,253.4Z" fill="#c89870" stroke="#8a8a8a" stroke-width="0.3" stroke-linejoin="round"/>
<path d="M8,253.9 L9.8,254.5 L10,255.8 L8.6,255Z" fill="#c89870" stroke="#8a8a8a" stroke-width="0.3" stroke-linejoin="round"/>
<path d="M435,230 L437.5,229 L439.5,231.5 L440.5,228.5 L441.5,232 L443.5,236.5 L446.5,241.5 L449.5,247 L452.5,253 L455.5,258 L458,262.5 L460,267 L461,272.5 L461.2,276.2 L459.8,276.2 L457.5,272.5 L455,268.5 L452,264 L449,259.5 L447,254.5 L445,249 L442.5,244 L439.5,238.5 L437,234.5Z" fill="#fff" stroke="#bfbfbf" stroke-width="0.6" stroke-linejoin="round"/>
<path d="M470.5,231.5 L473,231 L475.5,234.5 L478,238 L482,240 L486,239.5 L489,239 L490,241.5 L489,244 L487,247 L484,248 L481,247.5 L479,245 L477.5,242 L475,239 L472.5,235.5Z" fill="#fff" stroke="#bfbfbf" stroke-width="0.6" stroke-linejoin="round"/>
<path d="M457.5,179.17 L461.67,175.83 L470,174.17 L480,175.83 L483.33,170 L490,167.5 L496.67,165.83 L503.33,169.17 L511.67,168.33 L516.67,172.5 L523.33,175.83 L531.67,180 L538.33,181.67" fill="none" stroke="#bfbfbf" stroke-width="0.5" stroke-linejoin="round"/>
<path d="M457.5,179.17 L458.33,183.33 L462.5,188.33" fill="none" stroke="#bfbfbf" stroke-width="0.5" stroke-linejoin="round"/>
<path d="M470,190 L478.33,193.33 L481.67,190.83 L488.33,195 L496.67,196.67 L501.67,195 L508.33,199.17 L515,198.33 L523.33,197.5 L530,196.67" fill="none" stroke="#bfbfbf" stroke-width="0.5" stroke-linejoin="round"/>
<path d="M478.33,193.33 L479.17,198.33 L485,196.67 L491.67,200 L498.33,204.17 L503.33,210 L508.33,206.67 L513.33,203.33 L510,200.83 L508.33,199.17" fill="none" stroke="#bfbfbf" stroke-width="0.5" stroke-linejoin="round"/>
<path d="M476.67,210 L483.33,208.33 L490,206.67 L496.67,210 L503.33,210" fill="none" stroke="#bfbfbf" stroke-width="0.5" stroke-linejoin="round"/>
<path d="M503.33,210 L508.33,211.67 L513.33,209.17 L520,205.83 L523.33,206.67" fill="none" stroke="#bfbfbf" stroke-width="0.5" stroke-linejoin="round"/>
<path d="M523.33,206.67 L520.83,210 L515,213.33 L516.67,218.33 L512.5,221.67 L511.67,226.67 L505,230.83 L498.33,230.83 L495.83,225 L496.67,218.33 L495.83,213.33 L496.67,210" fill="none" stroke="#bfbfbf" stroke-width="0.5" stroke-linejoin="round"/>
<path d="M510,203.33 L516.67,204.17 L521.67,205.83" fill="none" stroke="#bfbfbf" stroke-width="0.5" stroke-linejoin="round"/>
<path d="M513.33,200.83 L520,199.17 L525.83,198.33" fill="none" stroke="#bfbfbf" stroke-width="0.5" stroke-linejoin="round"/>
<path d="M458.33,206.67 L460.83,213.33 L465,218.33 L469.17,225 L473.33,230.83 L475.83,233.33" fill="none" stroke="#bfbfbf" stroke-width="0.5" stroke-linejoin="round"/>
<path d="M498.33,230.83 L500.83,236.67 L500,240" fill="none" stroke="#bfbfbf" stroke-width="0.5" stroke-linejoin="round"/>
<path d="M446.67,196.67 L453.33,197.5 L460,200 L462.5,201.67" fill="none" stroke="#bfbfbf" stroke-width="0.5" stroke-linejoin="round"/>
<path d="M451.67,201.67 L458.33,204.17 L461.67,206.67" fill="none" stroke="#bfbfbf" stroke-width="0.5" stroke-linejoin="round"/>
<path d="M440,213.33 L446.67,212.5 L453.33,211.67 L458.33,206.67" fill="none" stroke="#bfbfbf" stroke-width="0.5" stroke-linejoin="round"/>
<path d="M446.67,212.5 L448.33,220 L443.33,225 L440,226.67" fill="none" stroke="#bfbfbf" stroke-width="0.5" stroke-linejoin="round"/>
<path d="M469.17,225 L463.33,226.67 L456.67,230 L448.33,226.67 L443.33,225" fill="none" stroke="#bfbfbf" stroke-width="0.5" stroke-linejoin="round"/>
</svg>
<div class="legend">
<span class="sw" style="left:228px;background:#7399c8;border:1px solid #5f80ab"></span><span class="t" style="left:247px;letter-spacing:-0.3px">Banned</span>
<span class="sw" style="left:307.25px;background:#ae2b40;border:1px solid #8c2033"></span><span class="t" style="left:326.3px;letter-spacing:-0.05px">Not banned</span>
<span class="sw" style="left:413px;background:#c89870;border:1px solid #a67c5c"></span><span class="t" style="left:432px;letter-spacing:-0.2px">Partially banned</span>
<span class="sw" style="left:545.75px;background:repeating-linear-gradient(135deg,#fff 0,#fff 1.7px,#dedede 1.7px,#dedede 3.3px,#fff 3.3px,#fff 3.7px);border:1px solid #bdbdbd"></span><span class="t" style="left:564.5px;letter-spacing:-0.25px">No data</span>
</div>
<div class="foot" style="left:16px;top:532.5px;letter-spacing:-0.14px"><b>Data source:</b> Various sources (2023)</div>
<div class="foot" style="right:19px;top:532.5px">OurWorldinData.org/animal-welfare | CC BY</div>
<div class="foot" style="left:16px;top:553.5px;letter-spacing:-0.07px"><b>Note:</b> Countries where bullfighting is not banned may have sub-national bans. Partially banned means that the bull cannot be severely injured</div>
<div class="foot" style="left:16px;top:568.5px;letter-spacing:-0.07px">or killed during the event.</div>
</body></html>
